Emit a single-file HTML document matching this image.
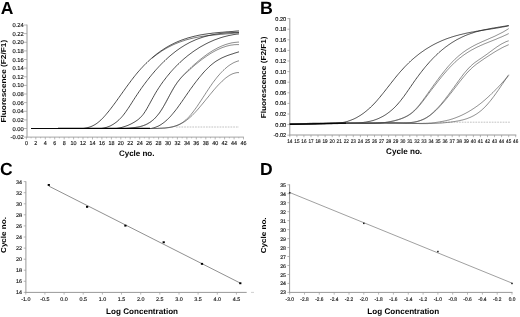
<!DOCTYPE html>
<html><head><meta charset="utf-8"><title>Figure</title>
<style>
html,body{margin:0;padding:0;background:#fff;}
body{width:520px;height:317px;overflow:hidden;}
svg{display:block;will-change:transform;opacity:0.999;font-family:"Liberation Sans",Arial,Helvetica,sans-serif;text-rendering:geometricPrecision;}
</style></head><body>
<svg width="520" height="317" viewBox="0 0 520 317">
<rect width="520" height="317" fill="#fff"/>
<line x1="27.0" y1="24.6" x2="27.0" y2="137.6" stroke="#999" stroke-width="1" />
<line x1="26.5" y1="137.1" x2="243.9" y2="137.1" stroke="#a6a6a6" stroke-width="1" />
<line x1="24.0" y1="137.1" x2="27.0" y2="137.1" stroke="#999" stroke-width="0.7" />
<text x="23.7" y="139.1" font-size="5.8" text-anchor="end" font-weight="normal" fill="#111"  stroke="#111" stroke-width="0.14">-0.02</text>
<line x1="24.0" y1="128.5" x2="27.0" y2="128.5" stroke="#999" stroke-width="0.7" />
<text x="23.7" y="130.5" font-size="5.8" text-anchor="end" font-weight="normal" fill="#111"  stroke="#111" stroke-width="0.14">0.00</text>
<line x1="24.0" y1="119.9" x2="27.0" y2="119.9" stroke="#999" stroke-width="0.7" />
<text x="23.7" y="121.9" font-size="5.8" text-anchor="end" font-weight="normal" fill="#111"  stroke="#111" stroke-width="0.14">0.02</text>
<line x1="24.0" y1="111.3" x2="27.0" y2="111.3" stroke="#999" stroke-width="0.7" />
<text x="23.7" y="113.3" font-size="5.8" text-anchor="end" font-weight="normal" fill="#111"  stroke="#111" stroke-width="0.14">0.04</text>
<line x1="24.0" y1="102.6" x2="27.0" y2="102.6" stroke="#999" stroke-width="0.7" />
<text x="23.7" y="104.6" font-size="5.8" text-anchor="end" font-weight="normal" fill="#111"  stroke="#111" stroke-width="0.14">0.06</text>
<line x1="24.0" y1="94.0" x2="27.0" y2="94.0" stroke="#999" stroke-width="0.7" />
<text x="23.7" y="96.0" font-size="5.8" text-anchor="end" font-weight="normal" fill="#111"  stroke="#111" stroke-width="0.14">0.08</text>
<line x1="24.0" y1="85.4" x2="27.0" y2="85.4" stroke="#999" stroke-width="0.7" />
<text x="23.7" y="87.4" font-size="5.8" text-anchor="end" font-weight="normal" fill="#111"  stroke="#111" stroke-width="0.14">0.10</text>
<line x1="24.0" y1="76.8" x2="27.0" y2="76.8" stroke="#999" stroke-width="0.7" />
<text x="23.7" y="78.8" font-size="5.8" text-anchor="end" font-weight="normal" fill="#111"  stroke="#111" stroke-width="0.14">0.12</text>
<line x1="24.0" y1="68.1" x2="27.0" y2="68.1" stroke="#999" stroke-width="0.7" />
<text x="23.7" y="70.1" font-size="5.8" text-anchor="end" font-weight="normal" fill="#111"  stroke="#111" stroke-width="0.14">0.14</text>
<line x1="24.0" y1="59.5" x2="27.0" y2="59.5" stroke="#999" stroke-width="0.7" />
<text x="23.7" y="61.5" font-size="5.8" text-anchor="end" font-weight="normal" fill="#111"  stroke="#111" stroke-width="0.14">0.16</text>
<line x1="24.0" y1="50.9" x2="27.0" y2="50.9" stroke="#999" stroke-width="0.7" />
<text x="23.7" y="52.9" font-size="5.8" text-anchor="end" font-weight="normal" fill="#111"  stroke="#111" stroke-width="0.14">0.18</text>
<line x1="24.0" y1="42.3" x2="27.0" y2="42.3" stroke="#999" stroke-width="0.7" />
<text x="23.7" y="44.3" font-size="5.8" text-anchor="end" font-weight="normal" fill="#111"  stroke="#111" stroke-width="0.14">0.20</text>
<line x1="24.0" y1="33.6" x2="27.0" y2="33.6" stroke="#999" stroke-width="0.7" />
<text x="23.7" y="35.6" font-size="5.8" text-anchor="end" font-weight="normal" fill="#111"  stroke="#111" stroke-width="0.14">0.22</text>
<line x1="24.0" y1="25.0" x2="27.0" y2="25.0" stroke="#999" stroke-width="0.7" />
<text x="23.7" y="27.0" font-size="5.8" text-anchor="end" font-weight="normal" fill="#111"  stroke="#111" stroke-width="0.14">0.24</text>
<line x1="26.4" y1="137.1" x2="26.4" y2="139.4" stroke="#999" stroke-width="0.7" />
<text transform="translate(26.4,145.0) scale(0.93,1)" font-size="5.8" text-anchor="middle" font-weight="normal" fill="#111"  stroke="#111" stroke-width="0.14">0</text>
<line x1="31.1" y1="137.1" x2="31.1" y2="138.4" stroke="#999" stroke-width="0.6" />
<line x1="35.8" y1="137.1" x2="35.8" y2="139.4" stroke="#999" stroke-width="0.7" />
<text transform="translate(35.8,145.0) scale(0.93,1)" font-size="5.8" text-anchor="middle" font-weight="normal" fill="#111"  stroke="#111" stroke-width="0.14">2</text>
<line x1="40.6" y1="137.1" x2="40.6" y2="138.4" stroke="#999" stroke-width="0.6" />
<line x1="45.3" y1="137.1" x2="45.3" y2="139.4" stroke="#999" stroke-width="0.7" />
<text transform="translate(45.3,145.0) scale(0.93,1)" font-size="5.8" text-anchor="middle" font-weight="normal" fill="#111"  stroke="#111" stroke-width="0.14">4</text>
<line x1="50.0" y1="137.1" x2="50.0" y2="138.4" stroke="#999" stroke-width="0.6" />
<line x1="54.7" y1="137.1" x2="54.7" y2="139.4" stroke="#999" stroke-width="0.7" />
<text transform="translate(54.7,145.0) scale(0.93,1)" font-size="5.8" text-anchor="middle" font-weight="normal" fill="#111"  stroke="#111" stroke-width="0.14">6</text>
<line x1="59.4" y1="137.1" x2="59.4" y2="138.4" stroke="#999" stroke-width="0.6" />
<line x1="64.2" y1="137.1" x2="64.2" y2="139.4" stroke="#999" stroke-width="0.7" />
<text transform="translate(64.2,145.0) scale(0.93,1)" font-size="5.8" text-anchor="middle" font-weight="normal" fill="#111"  stroke="#111" stroke-width="0.14">8</text>
<line x1="68.9" y1="137.1" x2="68.9" y2="138.4" stroke="#999" stroke-width="0.6" />
<line x1="73.6" y1="137.1" x2="73.6" y2="139.4" stroke="#999" stroke-width="0.7" />
<text transform="translate(73.6,145.0) scale(0.93,1)" font-size="5.8" text-anchor="middle" font-weight="normal" fill="#111"  stroke="#111" stroke-width="0.14">10</text>
<line x1="78.3" y1="137.1" x2="78.3" y2="138.4" stroke="#999" stroke-width="0.6" />
<line x1="83.0" y1="137.1" x2="83.0" y2="139.4" stroke="#999" stroke-width="0.7" />
<text transform="translate(83.0,145.0) scale(0.93,1)" font-size="5.8" text-anchor="middle" font-weight="normal" fill="#111"  stroke="#111" stroke-width="0.14">12</text>
<line x1="87.8" y1="137.1" x2="87.8" y2="138.4" stroke="#999" stroke-width="0.6" />
<line x1="92.5" y1="137.1" x2="92.5" y2="139.4" stroke="#999" stroke-width="0.7" />
<text transform="translate(92.5,145.0) scale(0.93,1)" font-size="5.8" text-anchor="middle" font-weight="normal" fill="#111"  stroke="#111" stroke-width="0.14">14</text>
<line x1="97.2" y1="137.1" x2="97.2" y2="138.4" stroke="#999" stroke-width="0.6" />
<line x1="101.9" y1="137.1" x2="101.9" y2="139.4" stroke="#999" stroke-width="0.7" />
<text transform="translate(101.9,145.0) scale(0.93,1)" font-size="5.8" text-anchor="middle" font-weight="normal" fill="#111"  stroke="#111" stroke-width="0.14">16</text>
<line x1="106.6" y1="137.1" x2="106.6" y2="138.4" stroke="#999" stroke-width="0.6" />
<line x1="111.4" y1="137.1" x2="111.4" y2="139.4" stroke="#999" stroke-width="0.7" />
<text transform="translate(111.4,145.0) scale(0.93,1)" font-size="5.8" text-anchor="middle" font-weight="normal" fill="#111"  stroke="#111" stroke-width="0.14">18</text>
<line x1="116.1" y1="137.1" x2="116.1" y2="138.4" stroke="#999" stroke-width="0.6" />
<line x1="120.8" y1="137.1" x2="120.8" y2="139.4" stroke="#999" stroke-width="0.7" />
<text transform="translate(120.8,145.0) scale(0.93,1)" font-size="5.8" text-anchor="middle" font-weight="normal" fill="#111"  stroke="#111" stroke-width="0.14">20</text>
<line x1="125.5" y1="137.1" x2="125.5" y2="138.4" stroke="#999" stroke-width="0.6" />
<line x1="130.2" y1="137.1" x2="130.2" y2="139.4" stroke="#999" stroke-width="0.7" />
<text transform="translate(130.2,145.0) scale(0.93,1)" font-size="5.8" text-anchor="middle" font-weight="normal" fill="#111"  stroke="#111" stroke-width="0.14">22</text>
<line x1="135.0" y1="137.1" x2="135.0" y2="138.4" stroke="#999" stroke-width="0.6" />
<line x1="139.7" y1="137.1" x2="139.7" y2="139.4" stroke="#999" stroke-width="0.7" />
<text transform="translate(139.7,145.0) scale(0.93,1)" font-size="5.8" text-anchor="middle" font-weight="normal" fill="#111"  stroke="#111" stroke-width="0.14">24</text>
<line x1="144.4" y1="137.1" x2="144.4" y2="138.4" stroke="#999" stroke-width="0.6" />
<line x1="149.1" y1="137.1" x2="149.1" y2="139.4" stroke="#999" stroke-width="0.7" />
<text transform="translate(149.1,145.0) scale(0.93,1)" font-size="5.8" text-anchor="middle" font-weight="normal" fill="#111"  stroke="#111" stroke-width="0.14">26</text>
<line x1="153.8" y1="137.1" x2="153.8" y2="138.4" stroke="#999" stroke-width="0.6" />
<line x1="158.6" y1="137.1" x2="158.6" y2="139.4" stroke="#999" stroke-width="0.7" />
<text transform="translate(158.6,145.0) scale(0.93,1)" font-size="5.8" text-anchor="middle" font-weight="normal" fill="#111"  stroke="#111" stroke-width="0.14">28</text>
<line x1="163.3" y1="137.1" x2="163.3" y2="138.4" stroke="#999" stroke-width="0.6" />
<line x1="168.0" y1="137.1" x2="168.0" y2="139.4" stroke="#999" stroke-width="0.7" />
<text transform="translate(168.0,145.0) scale(0.93,1)" font-size="5.8" text-anchor="middle" font-weight="normal" fill="#111"  stroke="#111" stroke-width="0.14">30</text>
<line x1="172.7" y1="137.1" x2="172.7" y2="138.4" stroke="#999" stroke-width="0.6" />
<line x1="177.4" y1="137.1" x2="177.4" y2="139.4" stroke="#999" stroke-width="0.7" />
<text transform="translate(177.4,145.0) scale(0.93,1)" font-size="5.8" text-anchor="middle" font-weight="normal" fill="#111"  stroke="#111" stroke-width="0.14">32</text>
<line x1="182.2" y1="137.1" x2="182.2" y2="138.4" stroke="#999" stroke-width="0.6" />
<line x1="186.9" y1="137.1" x2="186.9" y2="139.4" stroke="#999" stroke-width="0.7" />
<text transform="translate(186.9,145.0) scale(0.93,1)" font-size="5.8" text-anchor="middle" font-weight="normal" fill="#111"  stroke="#111" stroke-width="0.14">34</text>
<line x1="191.6" y1="137.1" x2="191.6" y2="138.4" stroke="#999" stroke-width="0.6" />
<line x1="196.3" y1="137.1" x2="196.3" y2="139.4" stroke="#999" stroke-width="0.7" />
<text transform="translate(196.3,145.0) scale(0.93,1)" font-size="5.8" text-anchor="middle" font-weight="normal" fill="#111"  stroke="#111" stroke-width="0.14">36</text>
<line x1="201.0" y1="137.1" x2="201.0" y2="138.4" stroke="#999" stroke-width="0.6" />
<line x1="205.8" y1="137.1" x2="205.8" y2="139.4" stroke="#999" stroke-width="0.7" />
<text transform="translate(205.8,145.0) scale(0.93,1)" font-size="5.8" text-anchor="middle" font-weight="normal" fill="#111"  stroke="#111" stroke-width="0.14">38</text>
<line x1="210.5" y1="137.1" x2="210.5" y2="138.4" stroke="#999" stroke-width="0.6" />
<line x1="215.2" y1="137.1" x2="215.2" y2="139.4" stroke="#999" stroke-width="0.7" />
<text transform="translate(215.2,145.0) scale(0.93,1)" font-size="5.8" text-anchor="middle" font-weight="normal" fill="#111"  stroke="#111" stroke-width="0.14">40</text>
<line x1="219.9" y1="137.1" x2="219.9" y2="138.4" stroke="#999" stroke-width="0.6" />
<line x1="224.6" y1="137.1" x2="224.6" y2="139.4" stroke="#999" stroke-width="0.7" />
<text transform="translate(224.6,145.0) scale(0.93,1)" font-size="5.8" text-anchor="middle" font-weight="normal" fill="#111"  stroke="#111" stroke-width="0.14">42</text>
<line x1="229.4" y1="137.1" x2="229.4" y2="138.4" stroke="#999" stroke-width="0.6" />
<line x1="234.1" y1="137.1" x2="234.1" y2="139.4" stroke="#999" stroke-width="0.7" />
<text transform="translate(234.1,145.0) scale(0.93,1)" font-size="5.8" text-anchor="middle" font-weight="normal" fill="#111"  stroke="#111" stroke-width="0.14">44</text>
<line x1="238.8" y1="137.1" x2="238.8" y2="138.4" stroke="#999" stroke-width="0.6" />
<line x1="243.5" y1="137.1" x2="243.5" y2="139.4" stroke="#999" stroke-width="0.7" />
<text transform="translate(243.5,145.0) scale(0.93,1)" font-size="5.8" text-anchor="middle" font-weight="normal" fill="#111"  stroke="#111" stroke-width="0.14">46</text>
<text x="136.7" y="155.9" font-size="8.0" text-anchor="middle" font-weight="bold" fill="#000" >Cycle no.</text>
<text transform="translate(6.1,81.2) rotate(-90) scale(1.033,0.9)" font-size="8" text-anchor="middle" font-weight="bold" fill="#000">Fluorescence (F2/F1)</text>
<text x="0.8" y="14.2" font-size="17.5" text-anchor="start" font-weight="bold" fill="#000" >A</text>
<line x1="176.0" y1="127.0" x2="238.8" y2="127.0" stroke="#808080" stroke-width="0.8" stroke-dasharray="0.6,0.98"/>
<path d="M31.1,128.5 L32.1,128.5 L33.1,128.5 L34.1,128.5 L35.1,128.5 L36.1,128.5 L37.1,128.5 L38.1,128.5 L39.1,128.5 L40.1,128.5 L41.1,128.5 L42.1,128.5 L43.1,128.5 L44.1,128.5 L45.1,128.5 L46.1,128.5 L47.1,128.5 L48.1,128.5 L49.1,128.5 L50.1,128.5 L51.1,128.5 L52.1,128.5 L53.1,128.5 L54.1,128.5 L55.1,128.5 L56.1,128.5 L57.1,128.5 L58.1,128.5 L59.1,128.5 L60.1,128.5 L61.1,128.5 L62.1,128.5 L63.1,128.5 L64.1,128.5 L65.1,128.5 L66.1,128.5 L67.1,128.5 L68.1,128.5 L69.1,128.5 L70.1,128.5 L71.1,128.5 L72.1,128.5 L73.1,128.5 L74.1,128.5 L75.1,128.5 L76.1,128.5 L77.1,128.5 L78.1,128.5 L79.1,128.5 L80.1,128.5 L81.1,128.5 L82.1,128.5 L83.1,128.5 L84.1,128.4 L85.1,128.2 L86.1,128.0 L87.1,127.8 L88.1,127.5 L89.1,127.2 L90.1,126.9 L91.1,126.5 L92.1,126.1 L93.1,125.6 L94.1,125.1 L95.1,124.5 L96.1,123.9 L97.1,123.2 L98.1,122.4 L99.1,121.6 L100.1,120.7 L101.1,119.8 L102.1,118.8 L103.1,117.8 L104.1,116.7 L105.1,115.6 L106.1,114.4 L107.1,113.2 L108.1,112.0 L109.1,110.8 L110.1,109.5 L111.1,108.2 L112.1,106.9 L113.1,105.6 L114.1,104.2 L115.1,102.9 L116.1,101.5 L117.1,100.1 L118.1,98.7 L119.1,97.3 L120.1,95.9 L121.1,94.5 L122.1,93.1 L123.1,91.7 L124.1,90.3 L125.1,88.9 L126.1,87.5 L127.1,86.1 L128.1,84.8 L129.1,83.4 L130.1,82.1 L131.1,80.7 L132.1,79.4 L133.1,78.1 L134.1,76.8 L135.1,75.6 L136.1,74.3 L137.1,73.1 L138.1,71.9 L139.1,70.8 L140.1,69.7 L141.1,68.5 L142.1,67.5 L143.1,66.4 L144.1,65.3 L145.1,64.3 L146.1,63.3 L147.1,62.4 L148.1,61.4 L149.1,60.5 L150.1,59.6 L151.1,58.7 L152.1,57.8 L153.1,56.9 L154.1,56.1 L155.1,55.3 L156.1,54.5 L157.1,53.7 L158.1,53.0 L159.1,52.3 L160.1,51.5 L161.1,50.8 L162.1,50.2 L163.1,49.5 L164.1,48.9 L165.1,48.2 L166.1,47.6 L167.1,47.0 L168.1,46.4 L169.1,45.9 L170.1,45.3 L171.1,44.8 L172.1,44.3 L173.1,43.8 L174.1,43.3 L175.1,42.8 L176.1,42.4 L177.1,41.9 L178.1,41.5 L179.1,41.1 L180.1,40.7 L181.1,40.3 L182.1,39.9 L183.1,39.6 L184.1,39.2 L185.1,38.9 L186.1,38.6 L187.1,38.2 L188.1,37.9 L189.1,37.6 L190.1,37.4 L191.1,37.1 L192.1,36.8 L193.1,36.6 L194.1,36.3 L195.1,36.1 L196.1,35.9 L197.1,35.6 L198.1,35.4 L199.1,35.2 L200.1,35.0 L201.1,34.8 L202.1,34.7 L203.1,34.5 L204.1,34.3 L205.1,34.2 L206.1,34.0 L207.1,33.9 L208.1,33.7 L209.1,33.6 L210.1,33.5 L211.1,33.4 L212.1,33.2 L213.1,33.1 L214.1,33.0 L215.1,32.9 L216.1,32.8 L217.1,32.7 L218.1,32.6 L219.1,32.5 L220.1,32.4 L221.1,32.3 L222.1,32.3 L223.1,32.2 L224.1,32.1 L225.1,32.0 L226.1,31.9 L227.1,31.8 L228.1,31.8 L229.1,31.7 L230.1,31.6 L231.1,31.5 L232.1,31.5 L233.1,31.4 L234.1,31.3 L235.1,31.2 L236.1,31.1 L237.1,31.0 L238.1,31.0 L239.0,30.9" fill="none" stroke="#222" stroke-width="0.82"/>
<path d="M31.1,128.5 L32.1,128.5 L33.1,128.5 L34.1,128.5 L35.1,128.5 L36.1,128.5 L37.1,128.5 L38.1,128.5 L39.1,128.5 L40.1,128.5 L41.1,128.5 L42.1,128.5 L43.1,128.5 L44.1,128.5 L45.1,128.5 L46.1,128.5 L47.1,128.5 L48.1,128.5 L49.1,128.5 L50.1,128.5 L51.1,128.5 L52.1,128.5 L53.1,128.5 L54.1,128.5 L55.1,128.5 L56.1,128.5 L57.1,128.5 L58.1,128.5 L59.1,128.5 L60.1,128.5 L61.1,128.5 L62.1,128.5 L63.1,128.5 L64.1,128.5 L65.1,128.5 L66.1,128.5 L67.1,128.5 L68.1,128.5 L69.1,128.5 L70.1,128.5 L71.1,128.5 L72.1,128.5 L73.1,128.5 L74.1,128.5 L75.1,128.5 L76.1,128.5 L77.1,128.5 L78.1,128.5 L79.1,128.5 L80.1,128.5 L81.1,128.5 L82.1,128.5 L83.1,128.5 L84.1,128.5 L85.1,128.5 L86.1,128.5 L87.1,128.5 L88.1,128.5 L89.1,128.5 L90.1,128.5 L91.1,128.5 L92.1,128.5 L93.1,128.5 L94.1,128.5 L95.1,128.5 L96.1,128.5 L97.1,128.5 L98.1,128.5 L99.1,128.5 L100.1,128.5 L101.1,128.5 L102.1,128.4 L103.1,128.2 L104.1,128.0 L105.1,127.7 L106.1,127.5 L107.1,127.1 L108.1,126.8 L109.1,126.4 L110.1,126.0 L111.1,125.5 L112.1,124.9 L113.1,124.4 L114.1,123.7 L115.1,123.0 L116.1,122.3 L117.1,121.5 L118.1,120.6 L119.1,119.7 L120.1,118.7 L121.1,117.7 L122.1,116.6 L123.1,115.4 L124.1,114.1 L125.1,112.8 L126.1,111.4 L127.1,109.9 L128.1,108.5 L129.1,107.0 L130.1,105.4 L131.1,103.9 L132.1,102.3 L133.1,100.7 L134.1,99.2 L135.1,97.6 L136.1,96.1 L137.1,94.6 L138.1,93.1 L139.1,91.6 L140.1,90.2 L141.1,88.7 L142.1,87.3 L143.1,85.9 L144.1,84.6 L145.1,83.2 L146.1,81.9 L147.1,80.6 L148.1,79.3 L149.1,78.0 L150.1,76.8 L151.1,75.6 L152.1,74.3 L153.1,73.2 L154.1,72.0 L155.1,70.8 L156.1,69.7 L157.1,68.6 L158.1,67.5 L159.1,66.4 L160.1,65.4 L161.1,64.3 L162.1,63.3 L163.1,62.3 L164.1,61.3 L165.1,60.4 L166.1,59.4 L167.1,58.5 L168.1,57.6 L169.1,56.7 L170.1,55.9 L171.1,55.0 L172.1,54.2 L173.1,53.4 L174.1,52.6 L175.1,51.8 L176.1,51.0 L177.1,50.3 L178.1,49.6 L179.1,48.9 L180.1,48.2 L181.1,47.5 L182.1,46.9 L183.1,46.3 L184.1,45.6 L185.1,45.0 L186.1,44.5 L187.1,43.9 L188.1,43.4 L189.1,42.8 L190.1,42.3 L191.1,41.8 L192.1,41.4 L193.1,40.9 L194.1,40.5 L195.1,40.0 L196.1,39.6 L197.1,39.2 L198.1,38.8 L199.1,38.5 L200.1,38.1 L201.1,37.8 L202.1,37.4 L203.1,37.1 L204.1,36.8 L205.1,36.5 L206.1,36.2 L207.1,36.0 L208.1,35.7 L209.1,35.5 L210.1,35.3 L211.1,35.0 L212.1,34.8 L213.1,34.6 L214.1,34.5 L215.1,34.3 L216.1,34.1 L217.1,34.0 L218.1,33.8 L219.1,33.7 L220.1,33.5 L221.1,33.4 L222.1,33.3 L223.1,33.2 L224.1,33.1 L225.1,33.0 L226.1,32.9 L227.1,32.8 L228.1,32.8 L229.1,32.7 L230.1,32.7 L231.1,32.6 L232.1,32.6 L233.1,32.5 L234.1,32.5 L235.1,32.4 L236.1,32.4 L237.1,32.4 L238.1,32.4 L239.0,32.4" fill="none" stroke="#222" stroke-width="0.82"/>
<path d="M31.1,128.5 L32.1,128.5 L33.1,128.5 L34.1,128.5 L35.1,128.5 L36.1,128.5 L37.1,128.5 L38.1,128.5 L39.1,128.5 L40.1,128.5 L41.1,128.5 L42.1,128.5 L43.1,128.5 L44.1,128.5 L45.1,128.5 L46.1,128.5 L47.1,128.5 L48.1,128.5 L49.1,128.5 L50.1,128.5 L51.1,128.5 L52.1,128.5 L53.1,128.5 L54.1,128.5 L55.1,128.5 L56.1,128.5 L57.1,128.5 L58.1,128.5 L59.1,128.5 L60.1,128.5 L61.1,128.5 L62.1,128.5 L63.1,128.5 L64.1,128.5 L65.1,128.5 L66.1,128.5 L67.1,128.5 L68.1,128.5 L69.1,128.5 L70.1,128.5 L71.1,128.5 L72.1,128.5 L73.1,128.5 L74.1,128.5 L75.1,128.5 L76.1,128.5 L77.1,128.5 L78.1,128.5 L79.1,128.5 L80.1,128.5 L81.1,128.5 L82.1,128.5 L83.1,128.5 L84.1,128.5 L85.1,128.5 L86.1,128.5 L87.1,128.5 L88.1,128.5 L89.1,128.5 L90.1,128.5 L91.1,128.5 L92.1,128.5 L93.1,128.5 L94.1,128.5 L95.1,128.5 L96.1,128.5 L97.1,128.5 L98.1,128.5 L99.1,128.5 L100.1,128.5 L101.1,128.5 L102.1,128.5 L103.1,128.5 L104.1,128.5 L105.1,128.5 L106.1,128.5 L107.1,128.5 L108.1,128.5 L109.1,128.5 L110.1,128.5 L111.1,128.5 L112.1,128.5 L113.1,128.5 L114.1,128.5 L115.1,128.5 L116.1,128.5 L117.1,128.4 L118.1,128.2 L119.1,128.0 L120.1,127.8 L121.1,127.6 L122.1,127.3 L123.1,127.0 L124.1,126.7 L125.1,126.4 L126.1,126.0 L127.1,125.7 L128.1,125.3 L129.1,124.8 L130.1,124.4 L131.1,123.9 L132.1,123.4 L133.1,122.8 L134.1,122.3 L135.1,121.6 L136.1,121.0 L137.1,120.3 L138.1,119.6 L139.1,118.7 L140.1,117.8 L141.1,116.8 L142.1,115.7 L143.1,114.5 L144.1,113.1 L145.1,111.6 L146.1,110.0 L147.1,108.3 L148.1,106.5 L149.1,104.7 L150.1,102.9 L151.1,101.0 L152.1,99.2 L153.1,97.4 L154.1,95.6 L155.1,93.8 L156.1,92.1 L157.1,90.5 L158.1,88.9 L159.1,87.4 L160.1,85.9 L161.1,84.4 L162.1,83.0 L163.1,81.6 L164.1,80.3 L165.1,79.0 L166.1,77.7 L167.1,76.4 L168.1,75.2 L169.1,74.0 L170.1,72.8 L171.1,71.6 L172.1,70.5 L173.1,69.4 L174.1,68.3 L175.1,67.3 L176.1,66.2 L177.1,65.2 L178.1,64.2 L179.1,63.3 L180.1,62.3 L181.1,61.4 L182.1,60.5 L183.1,59.6 L184.1,58.7 L185.1,57.9 L186.1,57.1 L187.1,56.2 L188.1,55.4 L189.1,54.7 L190.1,53.9 L191.1,53.2 L192.1,52.4 L193.1,51.7 L194.1,51.0 L195.1,50.3 L196.1,49.7 L197.1,49.0 L198.1,48.4 L199.1,47.7 L200.1,47.1 L201.1,46.5 L202.1,46.0 L203.1,45.4 L204.1,44.9 L205.1,44.3 L206.1,43.8 L207.1,43.3 L208.1,42.8 L209.1,42.3 L210.1,41.9 L211.1,41.4 L212.1,41.0 L213.1,40.5 L214.1,40.1 L215.1,39.7 L216.1,39.4 L217.1,39.0 L218.1,38.6 L219.1,38.3 L220.1,37.9 L221.1,37.6 L222.1,37.3 L223.1,37.0 L224.1,36.7 L225.1,36.5 L226.1,36.2 L227.1,36.0 L228.1,35.7 L229.1,35.5 L230.1,35.3 L231.1,35.1 L232.1,34.9 L233.1,34.7 L234.1,34.5 L235.1,34.4 L236.1,34.2 L237.1,34.1 L238.1,34.0 L239.0,33.9" fill="none" stroke="#222" stroke-width="0.82"/>
<path d="M31.1,128.5 L32.1,128.5 L33.1,128.5 L34.1,128.5 L35.1,128.5 L36.1,128.5 L37.1,128.5 L38.1,128.5 L39.1,128.5 L40.1,128.5 L41.1,128.5 L42.1,128.5 L43.1,128.5 L44.1,128.5 L45.1,128.5 L46.1,128.5 L47.1,128.5 L48.1,128.5 L49.1,128.5 L50.1,128.5 L51.1,128.5 L52.1,128.5 L53.1,128.5 L54.1,128.5 L55.1,128.5 L56.1,128.5 L57.1,128.5 L58.1,128.5 L59.1,128.5 L60.1,128.5 L61.1,128.5 L62.1,128.5 L63.1,128.5 L64.1,128.5 L65.1,128.5 L66.1,128.5 L67.1,128.5 L68.1,128.5 L69.1,128.5 L70.1,128.5 L71.1,128.5 L72.1,128.5 L73.1,128.5 L74.1,128.5 L75.1,128.5 L76.1,128.5 L77.1,128.5 L78.1,128.5 L79.1,128.5 L80.1,128.5 L81.1,128.5 L82.1,128.5 L83.1,128.5 L84.1,128.5 L85.1,128.5 L86.1,128.5 L87.1,128.5 L88.1,128.5 L89.1,128.5 L90.1,128.5 L91.1,128.5 L92.1,128.5 L93.1,128.5 L94.1,128.5 L95.1,128.5 L96.1,128.5 L97.1,128.5 L98.1,128.5 L99.1,128.5 L100.1,128.5 L101.1,128.5 L102.1,128.5 L103.1,128.5 L104.1,128.5 L105.1,128.5 L106.1,128.5 L107.1,128.5 L108.1,128.5 L109.1,128.5 L110.1,128.5 L111.1,128.5 L112.1,128.5 L113.1,128.5 L114.1,128.5 L115.1,128.5 L116.1,128.5 L117.1,128.5 L118.1,128.5 L119.1,128.5 L120.1,128.5 L121.1,128.5 L122.1,128.5 L123.1,128.5 L124.1,128.5 L125.1,128.5 L126.1,128.5 L127.1,128.5 L128.1,128.5 L129.1,128.5 L130.1,128.5 L131.1,128.5 L132.1,128.5 L133.1,128.5 L134.1,128.5 L135.1,128.5 L136.1,128.5 L137.1,128.5 L138.1,128.5 L139.1,128.5 L140.1,128.5 L141.1,128.5 L142.1,128.5 L143.1,128.5 L144.1,128.5 L145.1,128.5 L146.1,128.5 L147.1,128.5 L148.1,128.5 L149.1,128.5 L150.1,128.5 L151.1,128.5 L152.1,128.2 L153.1,128.0 L154.1,127.7 L155.1,127.4 L156.1,127.0 L157.1,126.6 L158.1,126.2 L159.1,125.7 L160.1,125.1 L161.1,124.5 L162.1,123.8 L163.1,123.1 L164.1,122.4 L165.1,121.5 L166.1,120.7 L167.1,119.8 L168.1,118.8 L169.1,117.8 L170.1,116.8 L171.1,115.7 L172.1,114.5 L173.1,113.3 L174.1,112.1 L175.1,110.9 L176.1,109.6 L177.1,108.3 L178.1,106.9 L179.1,105.5 L180.1,104.1 L181.1,102.7 L182.1,101.3 L183.1,99.8 L184.1,98.4 L185.1,96.9 L186.1,95.5 L187.1,94.0 L188.1,92.6 L189.1,91.2 L190.1,89.7 L191.1,88.3 L192.1,87.0 L193.1,85.6 L194.1,84.2 L195.1,82.9 L196.1,81.6 L197.1,80.3 L198.1,79.0 L199.1,77.8 L200.1,76.6 L201.1,75.4 L202.1,74.2 L203.1,73.0 L204.1,71.9 L205.1,70.8 L206.1,69.8 L207.1,68.8 L208.1,67.8 L209.1,66.8 L210.1,65.9 L211.1,65.0 L212.1,64.2 L213.1,63.4 L214.1,62.6 L215.1,61.9 L216.1,61.2 L217.1,60.6 L218.1,60.0 L219.1,59.4 L220.1,58.9 L221.1,58.3 L222.1,57.8 L223.1,57.4 L224.1,56.9 L225.1,56.5 L226.1,56.1 L227.1,55.7 L228.1,55.3 L229.1,55.0 L230.1,54.6 L231.1,54.3 L232.1,54.0 L233.1,53.7 L234.1,53.3 L235.1,53.0 L236.1,52.7 L237.1,52.4 L238.1,52.1 L239.0,51.8" fill="none" stroke="#222" stroke-width="0.82"/>
<path d="M152.1,58.2 L153.1,57.4 L154.1,56.6 L155.1,55.8 L156.1,55.0 L157.1,54.3 L158.1,53.6 L159.1,52.9 L160.1,52.2 L161.1,51.5 L162.1,50.8 L163.1,50.2 L164.1,49.6 L165.1,49.0 L166.1,48.4 L167.1,47.9 L168.1,47.3 L169.1,46.8 L170.1,46.3 L171.1,45.8 L172.1,45.3 L173.1,44.8 L174.1,44.4 L175.1,43.9 L176.1,43.5 L177.1,43.1 L178.1,42.7 L179.1,42.3 L180.1,41.9 L181.1,41.6 L182.1,41.2 L183.1,40.9 L184.1,40.6 L185.1,40.2 L186.1,39.9 L187.1,39.6 L188.1,39.4 L189.1,39.1 L190.1,38.8 L191.1,38.6 L192.1,38.4 L193.1,38.1 L194.1,37.9 L195.1,37.7 L196.1,37.5 L197.1,37.3 L198.1,37.1 L199.1,36.9 L200.1,36.8 L201.1,36.6 L202.1,36.4 L203.1,36.3 L204.1,36.1 L205.1,36.0 L206.1,35.9 L207.1,35.7 L208.1,35.6 L209.1,35.5 L210.1,35.4 L211.1,35.3 L212.1,35.2 L213.1,35.1 L214.1,35.0 L215.1,34.9 L216.1,34.8 L217.1,34.7 L218.1,34.6 L219.1,34.5 L220.1,34.4 L221.1,34.3 L222.1,34.3 L223.1,34.2 L224.1,34.1 L225.1,34.0 L226.1,33.9 L227.1,33.8 L228.1,33.8 L229.1,33.7 L230.1,33.6 L231.1,33.5 L232.1,33.4 L233.1,33.3 L234.1,33.2 L235.1,33.1 L236.1,33.0 L237.1,32.9 L238.1,32.8 L239.0,32.7" fill="none" stroke="#2a2a2a" stroke-width="0.65"/>
<path d="M31.1,128.5 L32.1,128.5 L33.1,128.5 L34.1,128.5 L35.1,128.5 L36.1,128.5 L37.1,128.5 L38.1,128.5 L39.1,128.5 L40.1,128.5 L41.1,128.5 L42.1,128.5 L43.1,128.5 L44.1,128.5 L45.1,128.5 L46.1,128.5 L47.1,128.5 L48.1,128.5 L49.1,128.5 L50.1,128.5 L51.1,128.5 L52.1,128.5 L53.1,128.5 L54.1,128.5 L55.1,128.5 L56.1,128.5 L57.1,128.5 L58.1,128.5 L59.1,128.5 L60.1,128.5 L61.1,128.5 L62.1,128.5 L63.1,128.5 L64.1,128.5 L65.1,128.5 L66.1,128.5 L67.1,128.5 L68.1,128.5 L69.1,128.5 L70.1,128.5 L71.1,128.5 L72.1,128.5 L73.1,128.5 L74.1,128.5 L75.1,128.5 L76.1,128.5 L77.1,128.5 L78.1,128.5 L79.1,128.5 L80.1,128.5 L81.1,128.5 L82.1,128.5 L83.1,128.5 L84.1,128.5 L85.1,128.5 L86.1,128.5 L87.1,128.5 L88.1,128.5 L89.1,128.5 L90.1,128.5 L91.1,128.5 L92.1,128.5 L93.1,128.5 L94.1,128.5 L95.1,128.5 L96.1,128.5 L97.1,128.5 L98.1,128.5 L99.1,128.5 L100.1,128.5 L101.1,128.5 L102.1,128.5 L103.1,128.5 L104.1,128.5 L105.1,128.5 L106.1,128.5 L107.1,128.5 L108.1,128.5 L109.1,128.5 L110.1,128.5 L111.1,128.5 L112.1,128.5 L113.1,128.5 L114.1,128.5 L115.1,128.5 L116.1,128.5 L117.1,128.5 L118.1,128.5 L119.1,128.5 L120.1,128.5 L121.1,128.5 L122.1,128.5 L123.1,128.5 L124.1,128.5 L125.1,128.5 L126.1,128.5 L127.1,128.4 L128.1,128.4 L129.1,128.3 L130.1,128.2 L131.1,128.0 L132.1,127.9 L133.1,127.8 L134.1,127.6 L135.1,127.5 L136.1,127.3 L137.1,127.2 L138.1,127.0 L139.1,126.8 L140.1,126.5 L141.1,126.3 L142.1,126.0 L143.1,125.7 L144.1,125.3 L145.1,124.9 L146.1,124.5 L147.1,124.0 L148.1,123.4 L149.1,122.8 L150.1,122.2 L151.1,121.5 L152.1,120.7 L153.1,119.9 L154.1,119.0 L155.1,118.0 L156.1,116.9 L157.1,115.8 L158.1,114.6 L159.1,113.3 L160.1,111.9 L161.1,110.4 L162.1,108.9 L163.1,107.2 L164.1,105.5 L165.1,103.7 L166.1,101.9 L167.1,100.0 L168.1,98.2 L169.1,96.3 L170.1,94.4 L171.1,92.6 L172.1,90.8 L173.1,89.0 L174.1,87.3 L175.1,85.7 L176.1,84.2 L177.1,82.7 L178.1,81.3 L179.1,80.0 L180.1,78.8 L181.1,77.6 L182.1,76.5 L183.1,75.4 L184.1,74.3 L185.1,73.3 L186.1,72.3 L187.1,71.3 L188.1,70.3 L189.1,69.4 L190.1,68.4 L191.1,67.5 L192.1,66.5 L193.1,65.6 L194.1,64.7 L195.1,63.8 L196.1,63.0 L197.1,62.1 L198.1,61.3 L199.1,60.4 L200.1,59.6 L201.1,58.8 L202.1,58.0 L203.1,57.3 L204.1,56.5 L205.1,55.8 L206.1,55.0 L207.1,54.3 L208.1,53.6 L209.1,53.0 L210.1,52.3 L211.1,51.7 L212.1,51.0 L213.1,50.4 L214.1,49.9 L215.1,49.3 L216.1,48.8 L217.1,48.2 L218.1,47.7 L219.1,47.2 L220.1,46.8 L221.1,46.3 L222.1,45.9 L223.1,45.5 L224.1,45.1 L225.1,44.7 L226.1,44.4 L227.1,44.1 L228.1,43.8 L229.1,43.5 L230.1,43.3 L231.1,43.0 L232.1,42.8 L233.1,42.7 L234.1,42.5 L235.1,42.4 L236.1,42.3 L237.1,42.2 L238.1,42.1 L239.0,42.1" fill="none" stroke="#4a4a4a" stroke-width="0.65"/>
<path d="M31.1,128.5 L32.1,128.5 L33.1,128.5 L34.1,128.5 L35.1,128.5 L36.1,128.5 L37.1,128.5 L38.1,128.5 L39.1,128.5 L40.1,128.5 L41.1,128.5 L42.1,128.5 L43.1,128.5 L44.1,128.5 L45.1,128.5 L46.1,128.5 L47.1,128.5 L48.1,128.5 L49.1,128.5 L50.1,128.5 L51.1,128.5 L52.1,128.5 L53.1,128.5 L54.1,128.5 L55.1,128.5 L56.1,128.5 L57.1,128.5 L58.1,128.5 L59.1,128.5 L60.1,128.5 L61.1,128.5 L62.1,128.5 L63.1,128.5 L64.1,128.5 L65.1,128.5 L66.1,128.5 L67.1,128.5 L68.1,128.5 L69.1,128.5 L70.1,128.5 L71.1,128.5 L72.1,128.5 L73.1,128.5 L74.1,128.5 L75.1,128.5 L76.1,128.5 L77.1,128.5 L78.1,128.5 L79.1,128.5 L80.1,128.5 L81.1,128.5 L82.1,128.5 L83.1,128.5 L84.1,128.5 L85.1,128.5 L86.1,128.5 L87.1,128.5 L88.1,128.5 L89.1,128.5 L90.1,128.5 L91.1,128.5 L92.1,128.5 L93.1,128.5 L94.1,128.5 L95.1,128.5 L96.1,128.5 L97.1,128.5 L98.1,128.5 L99.1,128.5 L100.1,128.5 L101.1,128.5 L102.1,128.5 L103.1,128.5 L104.1,128.5 L105.1,128.5 L106.1,128.5 L107.1,128.5 L108.1,128.5 L109.1,128.5 L110.1,128.5 L111.1,128.5 L112.1,128.5 L113.1,128.5 L114.1,128.5 L115.1,128.5 L116.1,128.5 L117.1,128.5 L118.1,128.5 L119.1,128.5 L120.1,128.5 L121.1,128.5 L122.1,128.5 L123.1,128.5 L124.1,128.5 L125.1,128.5 L126.1,128.5 L127.1,128.4 L128.1,128.3 L129.1,128.2 L130.1,128.1 L131.1,128.0 L132.1,127.9 L133.1,127.8 L134.1,127.6 L135.1,127.5 L136.1,127.3 L137.1,127.2 L138.1,127.0 L139.1,126.8 L140.1,126.6 L141.1,126.3 L142.1,126.0 L143.1,125.7 L144.1,125.3 L145.1,125.0 L146.1,124.5 L147.1,124.0 L148.1,123.5 L149.1,122.9 L150.1,122.3 L151.1,121.6 L152.1,120.8 L153.1,120.0 L154.1,119.1 L155.1,118.1 L156.1,117.0 L157.1,115.9 L158.1,114.7 L159.1,113.4 L160.1,112.0 L161.1,110.5 L162.1,108.9 L163.1,107.2 L164.1,105.5 L165.1,103.7 L166.1,101.9 L167.1,100.0 L168.1,98.1 L169.1,96.2 L170.1,94.4 L171.1,92.5 L172.1,90.7 L173.1,89.0 L174.1,87.3 L175.1,85.7 L176.1,84.2 L177.1,82.8 L178.1,81.5 L179.1,80.2 L180.1,79.0 L181.1,77.9 L182.1,76.8 L183.1,75.8 L184.1,74.8 L185.1,73.8 L186.1,72.9 L187.1,72.0 L188.1,71.1 L189.1,70.2 L190.1,69.3 L191.1,68.4 L192.1,67.5 L193.1,66.6 L194.1,65.8 L195.1,64.9 L196.1,64.1 L197.1,63.3 L198.1,62.5 L199.1,61.7 L200.1,60.9 L201.1,60.1 L202.1,59.3 L203.1,58.6 L204.1,57.9 L205.1,57.2 L206.1,56.5 L207.1,55.8 L208.1,55.1 L209.1,54.5 L210.1,53.8 L211.1,53.2 L212.1,52.6 L213.1,52.0 L214.1,51.5 L215.1,50.9 L216.1,50.4 L217.1,49.9 L218.1,49.4 L219.1,49.0 L220.1,48.5 L221.1,48.1 L222.1,47.7 L223.1,47.3 L224.1,47.0 L225.1,46.6 L226.1,46.3 L227.1,46.0 L228.1,45.8 L229.1,45.5 L230.1,45.3 L231.1,45.1 L232.1,45.0 L233.1,44.9 L234.1,44.7 L235.1,44.7 L236.1,44.6 L237.1,44.6 L238.1,44.6 L239.0,44.6" fill="none" stroke="#4a4a4a" stroke-width="0.65"/>
<path d="M31.1,128.5 L32.1,128.5 L33.1,128.5 L34.1,128.5 L35.1,128.5 L36.1,128.5 L37.1,128.5 L38.1,128.5 L39.1,128.5 L40.1,128.5 L41.1,128.5 L42.1,128.5 L43.1,128.5 L44.1,128.5 L45.1,128.5 L46.1,128.5 L47.1,128.5 L48.1,128.5 L49.1,128.5 L50.1,128.5 L51.1,128.5 L52.1,128.5 L53.1,128.5 L54.1,128.5 L55.1,128.5 L56.1,128.5 L57.1,128.5 L58.1,128.5 L59.1,128.5 L60.1,128.5 L61.1,128.5 L62.1,128.5 L63.1,128.5 L64.1,128.5 L65.1,128.5 L66.1,128.5 L67.1,128.5 L68.1,128.5 L69.1,128.5 L70.1,128.5 L71.1,128.5 L72.1,128.5 L73.1,128.5 L74.1,128.5 L75.1,128.5 L76.1,128.5 L77.1,128.5 L78.1,128.5 L79.1,128.5 L80.1,128.5 L81.1,128.5 L82.1,128.5 L83.1,128.5 L84.1,128.5 L85.1,128.5 L86.1,128.5 L87.1,128.5 L88.1,128.5 L89.1,128.5 L90.1,128.5 L91.1,128.5 L92.1,128.5 L93.1,128.5 L94.1,128.5 L95.1,128.5 L96.1,128.5 L97.1,128.5 L98.1,128.5 L99.1,128.5 L100.1,128.5 L101.1,128.5 L102.1,128.5 L103.1,128.5 L104.1,128.5 L105.1,128.5 L106.1,128.5 L107.1,128.5 L108.1,128.5 L109.1,128.5 L110.1,128.5 L111.1,128.5 L112.1,128.5 L113.1,128.5 L114.1,128.5 L115.1,128.5 L116.1,128.5 L117.1,128.5 L118.1,128.5 L119.1,128.5 L120.1,128.5 L121.1,128.5 L122.1,128.5 L123.1,128.5 L124.1,128.5 L125.1,128.5 L126.1,128.5 L127.1,128.5 L128.1,128.5 L129.1,128.5 L130.1,128.5 L131.1,128.5 L132.1,128.5 L133.1,128.5 L134.1,128.5 L135.1,128.5 L136.1,128.5 L137.1,128.5 L138.1,128.5 L139.1,128.5 L140.1,128.5 L141.1,128.5 L142.1,128.5 L143.1,128.5 L144.1,128.5 L145.1,128.5 L146.1,128.5 L147.1,128.5 L148.1,128.5 L149.1,128.5 L150.1,128.5 L151.1,128.5 L152.1,128.5 L153.1,128.5 L154.1,128.5 L155.1,128.4 L156.1,128.4 L157.1,128.4 L158.1,128.3 L159.1,128.3 L160.1,128.2 L161.1,128.2 L162.1,128.2 L163.1,128.1 L164.1,128.1 L165.1,128.0 L166.1,127.9 L167.1,127.8 L168.1,127.7 L169.1,127.6 L170.1,127.4 L171.1,127.2 L172.1,127.0 L173.1,126.8 L174.1,126.5 L175.1,126.2 L176.1,125.8 L177.1,125.4 L178.1,125.0 L179.1,124.5 L180.1,124.0 L181.1,123.4 L182.1,122.8 L183.1,122.1 L184.1,121.3 L185.1,120.5 L186.1,119.7 L187.1,118.7 L188.1,117.7 L189.1,116.7 L190.1,115.5 L191.1,114.4 L192.1,113.1 L193.1,111.9 L194.1,110.5 L195.1,109.2 L196.1,107.8 L197.1,106.4 L198.1,104.9 L199.1,103.4 L200.1,101.9 L201.1,100.4 L202.1,98.9 L203.1,97.3 L204.1,95.8 L205.1,94.3 L206.1,92.7 L207.1,91.2 L208.1,89.7 L209.1,88.2 L210.1,86.7 L211.1,85.3 L212.1,83.8 L213.1,82.4 L214.1,81.1 L215.1,79.8 L216.1,78.5 L217.1,77.2 L218.1,76.0 L219.1,74.9 L220.1,73.7 L221.1,72.7 L222.1,71.6 L223.1,70.6 L224.1,69.7 L225.1,68.7 L226.1,67.9 L227.1,67.0 L228.1,66.2 L229.1,65.5 L230.1,64.8 L231.1,64.2 L232.1,63.6 L233.1,63.0 L234.1,62.5 L235.1,62.1 L236.1,61.7 L237.1,61.3 L238.1,61.0 L239.0,60.8" fill="none" stroke="#4a4a4a" stroke-width="0.65"/>
<path d="M31.1,128.5 L32.1,128.5 L33.1,128.5 L34.1,128.5 L35.1,128.5 L36.1,128.5 L37.1,128.5 L38.1,128.5 L39.1,128.5 L40.1,128.5 L41.1,128.5 L42.1,128.5 L43.1,128.5 L44.1,128.5 L45.1,128.5 L46.1,128.5 L47.1,128.5 L48.1,128.5 L49.1,128.5 L50.1,128.5 L51.1,128.5 L52.1,128.5 L53.1,128.5 L54.1,128.5 L55.1,128.5 L56.1,128.5 L57.1,128.5 L58.1,128.5 L59.1,128.5 L60.1,128.5 L61.1,128.5 L62.1,128.5 L63.1,128.5 L64.1,128.5 L65.1,128.5 L66.1,128.5 L67.1,128.5 L68.1,128.5 L69.1,128.5 L70.1,128.5 L71.1,128.5 L72.1,128.5 L73.1,128.5 L74.1,128.5 L75.1,128.5 L76.1,128.5 L77.1,128.5 L78.1,128.5 L79.1,128.5 L80.1,128.5 L81.1,128.5 L82.1,128.5 L83.1,128.5 L84.1,128.5 L85.1,128.5 L86.1,128.5 L87.1,128.5 L88.1,128.5 L89.1,128.5 L90.1,128.5 L91.1,128.5 L92.1,128.5 L93.1,128.5 L94.1,128.5 L95.1,128.5 L96.1,128.5 L97.1,128.5 L98.1,128.5 L99.1,128.5 L100.1,128.5 L101.1,128.5 L102.1,128.5 L103.1,128.5 L104.1,128.5 L105.1,128.5 L106.1,128.5 L107.1,128.5 L108.1,128.5 L109.1,128.5 L110.1,128.5 L111.1,128.5 L112.1,128.5 L113.1,128.5 L114.1,128.5 L115.1,128.5 L116.1,128.5 L117.1,128.5 L118.1,128.5 L119.1,128.5 L120.1,128.5 L121.1,128.5 L122.1,128.5 L123.1,128.5 L124.1,128.5 L125.1,128.5 L126.1,128.5 L127.1,128.5 L128.1,128.5 L129.1,128.5 L130.1,128.5 L131.1,128.5 L132.1,128.5 L133.1,128.5 L134.1,128.5 L135.1,128.5 L136.1,128.5 L137.1,128.5 L138.1,128.5 L139.1,128.5 L140.1,128.5 L141.1,128.5 L142.1,128.5 L143.1,128.5 L144.1,128.5 L145.1,128.5 L146.1,128.5 L147.1,128.5 L148.1,128.5 L149.1,128.5 L150.1,128.5 L151.1,128.5 L152.1,128.5 L153.1,128.5 L154.1,128.5 L155.1,128.5 L156.1,128.5 L157.1,128.5 L158.1,128.4 L159.1,128.4 L160.1,128.3 L161.1,128.3 L162.1,128.2 L163.1,128.1 L164.1,128.1 L165.1,128.0 L166.1,127.9 L167.1,127.7 L168.1,127.6 L169.1,127.4 L170.1,127.3 L171.1,127.1 L172.1,126.9 L173.1,126.6 L174.1,126.3 L175.1,126.1 L176.1,125.7 L177.1,125.4 L178.1,125.0 L179.1,124.6 L180.1,124.1 L181.1,123.6 L182.1,123.1 L183.1,122.5 L184.1,121.9 L185.1,121.3 L186.1,120.6 L187.1,119.8 L188.1,119.0 L189.1,118.2 L190.1,117.3 L191.1,116.4 L192.1,115.5 L193.1,114.5 L194.1,113.4 L195.1,112.4 L196.1,111.3 L197.1,110.2 L198.1,109.1 L199.1,107.9 L200.1,106.7 L201.1,105.5 L202.1,104.3 L203.1,103.1 L204.1,101.9 L205.1,100.7 L206.1,99.4 L207.1,98.2 L208.1,97.0 L209.1,95.8 L210.1,94.5 L211.1,93.3 L212.1,92.1 L213.1,90.9 L214.1,89.7 L215.1,88.6 L216.1,87.4 L217.1,86.3 L218.1,85.2 L219.1,84.2 L220.1,83.2 L221.1,82.2 L222.1,81.2 L223.1,80.3 L224.1,79.4 L225.1,78.5 L226.1,77.7 L227.1,77.0 L228.1,76.3 L229.1,75.6 L230.1,75.0 L231.1,74.5 L232.1,74.0 L233.1,73.6 L234.1,73.3 L235.1,73.0 L236.1,72.8 L237.1,72.6 L238.1,72.6 L239.0,72.6" fill="none" stroke="#4a4a4a" stroke-width="0.65"/>
<line x1="31.1" y1="128.5" x2="150.0" y2="128.5" stroke="#000" stroke-width="0.9" />
<line x1="58.0" y1="128.3" x2="150.0" y2="128.3" stroke="#000" stroke-width="1.3" />
<line x1="289.8" y1="18.2" x2="289.8" y2="135.5" stroke="#999" stroke-width="1" />
<line x1="289.3" y1="135.0" x2="516.3" y2="135.0" stroke="#999" stroke-width="1" />
<line x1="287.4" y1="135.2" x2="289.8" y2="135.2" stroke="#999" stroke-width="0.7" />
<text x="286.2" y="137.2" font-size="5.6" text-anchor="end" font-weight="normal" fill="#111"  stroke="#111" stroke-width="0.14">-0.02</text>
<line x1="287.4" y1="124.6" x2="289.8" y2="124.6" stroke="#999" stroke-width="0.7" />
<text x="286.2" y="126.6" font-size="5.6" text-anchor="end" font-weight="normal" fill="#111"  stroke="#111" stroke-width="0.14">0.00</text>
<line x1="287.4" y1="114.0" x2="289.8" y2="114.0" stroke="#999" stroke-width="0.7" />
<text x="286.2" y="116.0" font-size="5.6" text-anchor="end" font-weight="normal" fill="#111"  stroke="#111" stroke-width="0.14">0.02</text>
<line x1="287.4" y1="103.4" x2="289.8" y2="103.4" stroke="#999" stroke-width="0.7" />
<text x="286.2" y="105.4" font-size="5.6" text-anchor="end" font-weight="normal" fill="#111"  stroke="#111" stroke-width="0.14">0.04</text>
<line x1="287.4" y1="92.8" x2="289.8" y2="92.8" stroke="#999" stroke-width="0.7" />
<text x="286.2" y="94.8" font-size="5.6" text-anchor="end" font-weight="normal" fill="#111"  stroke="#111" stroke-width="0.14">0.06</text>
<line x1="287.4" y1="82.2" x2="289.8" y2="82.2" stroke="#999" stroke-width="0.7" />
<text x="286.2" y="84.2" font-size="5.6" text-anchor="end" font-weight="normal" fill="#111"  stroke="#111" stroke-width="0.14">0.08</text>
<line x1="287.4" y1="71.6" x2="289.8" y2="71.6" stroke="#999" stroke-width="0.7" />
<text x="286.2" y="73.6" font-size="5.6" text-anchor="end" font-weight="normal" fill="#111"  stroke="#111" stroke-width="0.14">0.10</text>
<line x1="287.4" y1="61.0" x2="289.8" y2="61.0" stroke="#999" stroke-width="0.7" />
<text x="286.2" y="63.0" font-size="5.6" text-anchor="end" font-weight="normal" fill="#111"  stroke="#111" stroke-width="0.14">0.12</text>
<line x1="287.4" y1="50.4" x2="289.8" y2="50.4" stroke="#999" stroke-width="0.7" />
<text x="286.2" y="52.4" font-size="5.6" text-anchor="end" font-weight="normal" fill="#111"  stroke="#111" stroke-width="0.14">0.14</text>
<line x1="287.4" y1="39.8" x2="289.8" y2="39.8" stroke="#999" stroke-width="0.7" />
<text x="286.2" y="41.8" font-size="5.6" text-anchor="end" font-weight="normal" fill="#111"  stroke="#111" stroke-width="0.14">0.16</text>
<line x1="287.4" y1="29.2" x2="289.8" y2="29.2" stroke="#999" stroke-width="0.7" />
<text x="286.2" y="31.2" font-size="5.6" text-anchor="end" font-weight="normal" fill="#111"  stroke="#111" stroke-width="0.14">0.18</text>
<line x1="287.4" y1="18.6" x2="289.8" y2="18.6" stroke="#999" stroke-width="0.7" />
<text x="286.2" y="20.6" font-size="5.6" text-anchor="end" font-weight="normal" fill="#111"  stroke="#111" stroke-width="0.14">0.20</text>
<line x1="289.8" y1="135.0" x2="289.8" y2="137.2" stroke="#999" stroke-width="0.7" />
<text transform="translate(289.8,142.8) scale(0.86,1)" font-size="5.4" text-anchor="middle" font-weight="normal" fill="#111"  stroke="#111" stroke-width="0.14">14</text>
<line x1="296.9" y1="135.0" x2="296.9" y2="137.2" stroke="#999" stroke-width="0.7" />
<text transform="translate(296.9,142.8) scale(0.86,1)" font-size="5.4" text-anchor="middle" font-weight="normal" fill="#111"  stroke="#111" stroke-width="0.14">15</text>
<line x1="303.9" y1="135.0" x2="303.9" y2="137.2" stroke="#999" stroke-width="0.7" />
<text transform="translate(303.9,142.8) scale(0.86,1)" font-size="5.4" text-anchor="middle" font-weight="normal" fill="#111"  stroke="#111" stroke-width="0.14">16</text>
<line x1="311.0" y1="135.0" x2="311.0" y2="137.2" stroke="#999" stroke-width="0.7" />
<text transform="translate(311.0,142.8) scale(0.86,1)" font-size="5.4" text-anchor="middle" font-weight="normal" fill="#111"  stroke="#111" stroke-width="0.14">17</text>
<line x1="318.0" y1="135.0" x2="318.0" y2="137.2" stroke="#999" stroke-width="0.7" />
<text transform="translate(318.0,142.8) scale(0.86,1)" font-size="5.4" text-anchor="middle" font-weight="normal" fill="#111"  stroke="#111" stroke-width="0.14">18</text>
<line x1="325.1" y1="135.0" x2="325.1" y2="137.2" stroke="#999" stroke-width="0.7" />
<text transform="translate(325.1,142.8) scale(0.86,1)" font-size="5.4" text-anchor="middle" font-weight="normal" fill="#111"  stroke="#111" stroke-width="0.14">19</text>
<line x1="332.2" y1="135.0" x2="332.2" y2="137.2" stroke="#999" stroke-width="0.7" />
<text transform="translate(332.2,142.8) scale(0.86,1)" font-size="5.4" text-anchor="middle" font-weight="normal" fill="#111"  stroke="#111" stroke-width="0.14">20</text>
<line x1="339.2" y1="135.0" x2="339.2" y2="137.2" stroke="#999" stroke-width="0.7" />
<text transform="translate(339.2,142.8) scale(0.86,1)" font-size="5.4" text-anchor="middle" font-weight="normal" fill="#111"  stroke="#111" stroke-width="0.14">21</text>
<line x1="346.3" y1="135.0" x2="346.3" y2="137.2" stroke="#999" stroke-width="0.7" />
<text transform="translate(346.3,142.8) scale(0.86,1)" font-size="5.4" text-anchor="middle" font-weight="normal" fill="#111"  stroke="#111" stroke-width="0.14">22</text>
<line x1="353.3" y1="135.0" x2="353.3" y2="137.2" stroke="#999" stroke-width="0.7" />
<text transform="translate(353.3,142.8) scale(0.86,1)" font-size="5.4" text-anchor="middle" font-weight="normal" fill="#111"  stroke="#111" stroke-width="0.14">23</text>
<line x1="360.4" y1="135.0" x2="360.4" y2="137.2" stroke="#999" stroke-width="0.7" />
<text transform="translate(360.4,142.8) scale(0.86,1)" font-size="5.4" text-anchor="middle" font-weight="normal" fill="#111"  stroke="#111" stroke-width="0.14">24</text>
<line x1="367.5" y1="135.0" x2="367.5" y2="137.2" stroke="#999" stroke-width="0.7" />
<text transform="translate(367.5,142.8) scale(0.86,1)" font-size="5.4" text-anchor="middle" font-weight="normal" fill="#111"  stroke="#111" stroke-width="0.14">25</text>
<line x1="374.5" y1="135.0" x2="374.5" y2="137.2" stroke="#999" stroke-width="0.7" />
<text transform="translate(374.5,142.8) scale(0.86,1)" font-size="5.4" text-anchor="middle" font-weight="normal" fill="#111"  stroke="#111" stroke-width="0.14">26</text>
<line x1="381.6" y1="135.0" x2="381.6" y2="137.2" stroke="#999" stroke-width="0.7" />
<text transform="translate(381.6,142.8) scale(0.86,1)" font-size="5.4" text-anchor="middle" font-weight="normal" fill="#111"  stroke="#111" stroke-width="0.14">27</text>
<line x1="388.6" y1="135.0" x2="388.6" y2="137.2" stroke="#999" stroke-width="0.7" />
<text transform="translate(388.6,142.8) scale(0.86,1)" font-size="5.4" text-anchor="middle" font-weight="normal" fill="#111"  stroke="#111" stroke-width="0.14">28</text>
<line x1="395.7" y1="135.0" x2="395.7" y2="137.2" stroke="#999" stroke-width="0.7" />
<text transform="translate(395.7,142.8) scale(0.86,1)" font-size="5.4" text-anchor="middle" font-weight="normal" fill="#111"  stroke="#111" stroke-width="0.14">29</text>
<line x1="402.8" y1="135.0" x2="402.8" y2="137.2" stroke="#999" stroke-width="0.7" />
<text transform="translate(402.8,142.8) scale(0.86,1)" font-size="5.4" text-anchor="middle" font-weight="normal" fill="#111"  stroke="#111" stroke-width="0.14">30</text>
<line x1="409.8" y1="135.0" x2="409.8" y2="137.2" stroke="#999" stroke-width="0.7" />
<text transform="translate(409.8,142.8) scale(0.86,1)" font-size="5.4" text-anchor="middle" font-weight="normal" fill="#111"  stroke="#111" stroke-width="0.14">31</text>
<line x1="416.9" y1="135.0" x2="416.9" y2="137.2" stroke="#999" stroke-width="0.7" />
<text transform="translate(416.9,142.8) scale(0.86,1)" font-size="5.4" text-anchor="middle" font-weight="normal" fill="#111"  stroke="#111" stroke-width="0.14">32</text>
<line x1="423.9" y1="135.0" x2="423.9" y2="137.2" stroke="#999" stroke-width="0.7" />
<text transform="translate(423.9,142.8) scale(0.86,1)" font-size="5.4" text-anchor="middle" font-weight="normal" fill="#111"  stroke="#111" stroke-width="0.14">33</text>
<line x1="431.0" y1="135.0" x2="431.0" y2="137.2" stroke="#999" stroke-width="0.7" />
<text transform="translate(431.0,142.8) scale(0.86,1)" font-size="5.4" text-anchor="middle" font-weight="normal" fill="#111"  stroke="#111" stroke-width="0.14">34</text>
<line x1="438.1" y1="135.0" x2="438.1" y2="137.2" stroke="#999" stroke-width="0.7" />
<text transform="translate(438.1,142.8) scale(0.86,1)" font-size="5.4" text-anchor="middle" font-weight="normal" fill="#111"  stroke="#111" stroke-width="0.14">35</text>
<line x1="445.1" y1="135.0" x2="445.1" y2="137.2" stroke="#999" stroke-width="0.7" />
<text transform="translate(445.1,142.8) scale(0.86,1)" font-size="5.4" text-anchor="middle" font-weight="normal" fill="#111"  stroke="#111" stroke-width="0.14">36</text>
<line x1="452.2" y1="135.0" x2="452.2" y2="137.2" stroke="#999" stroke-width="0.7" />
<text transform="translate(452.2,142.8) scale(0.86,1)" font-size="5.4" text-anchor="middle" font-weight="normal" fill="#111"  stroke="#111" stroke-width="0.14">37</text>
<line x1="459.2" y1="135.0" x2="459.2" y2="137.2" stroke="#999" stroke-width="0.7" />
<text transform="translate(459.2,142.8) scale(0.86,1)" font-size="5.4" text-anchor="middle" font-weight="normal" fill="#111"  stroke="#111" stroke-width="0.14">38</text>
<line x1="466.3" y1="135.0" x2="466.3" y2="137.2" stroke="#999" stroke-width="0.7" />
<text transform="translate(466.3,142.8) scale(0.86,1)" font-size="5.4" text-anchor="middle" font-weight="normal" fill="#111"  stroke="#111" stroke-width="0.14">39</text>
<line x1="473.4" y1="135.0" x2="473.4" y2="137.2" stroke="#999" stroke-width="0.7" />
<text transform="translate(473.4,142.8) scale(0.86,1)" font-size="5.4" text-anchor="middle" font-weight="normal" fill="#111"  stroke="#111" stroke-width="0.14">40</text>
<line x1="480.4" y1="135.0" x2="480.4" y2="137.2" stroke="#999" stroke-width="0.7" />
<text transform="translate(480.4,142.8) scale(0.86,1)" font-size="5.4" text-anchor="middle" font-weight="normal" fill="#111"  stroke="#111" stroke-width="0.14">41</text>
<line x1="487.5" y1="135.0" x2="487.5" y2="137.2" stroke="#999" stroke-width="0.7" />
<text transform="translate(487.5,142.8) scale(0.86,1)" font-size="5.4" text-anchor="middle" font-weight="normal" fill="#111"  stroke="#111" stroke-width="0.14">42</text>
<line x1="494.5" y1="135.0" x2="494.5" y2="137.2" stroke="#999" stroke-width="0.7" />
<text transform="translate(494.5,142.8) scale(0.86,1)" font-size="5.4" text-anchor="middle" font-weight="normal" fill="#111"  stroke="#111" stroke-width="0.14">43</text>
<line x1="501.6" y1="135.0" x2="501.6" y2="137.2" stroke="#999" stroke-width="0.7" />
<text transform="translate(501.6,142.8) scale(0.86,1)" font-size="5.4" text-anchor="middle" font-weight="normal" fill="#111"  stroke="#111" stroke-width="0.14">44</text>
<line x1="508.7" y1="135.0" x2="508.7" y2="137.2" stroke="#999" stroke-width="0.7" />
<text transform="translate(508.7,142.8) scale(0.86,1)" font-size="5.4" text-anchor="middle" font-weight="normal" fill="#111"  stroke="#111" stroke-width="0.14">45</text>
<line x1="515.7" y1="135.0" x2="515.7" y2="137.2" stroke="#999" stroke-width="0.7" />
<text transform="translate(515.7,142.8) scale(0.86,1)" font-size="5.4" text-anchor="middle" font-weight="normal" fill="#111"  stroke="#111" stroke-width="0.14">46</text>
<text x="404.1" y="153.7" font-size="8.1" text-anchor="middle" font-weight="bold" fill="#000" >Cycle no.</text>
<text transform="translate(266.3,77.4) rotate(-90) scale(1.022,0.9)" font-size="8" text-anchor="middle" font-weight="bold" fill="#000">Fluorescence (F2/F1)</text>
<text x="260.0" y="14.0" font-size="17.8" text-anchor="start" font-weight="bold" fill="#000" >B</text>
<line x1="440.0" y1="122.2" x2="510.0" y2="122.2" stroke="#808080" stroke-width="0.8" stroke-dasharray="0.6,0.98"/>
<path d="M289.8,124.2 L290.8,124.2 L291.8,124.2 L292.8,124.2 L293.8,124.2 L294.8,124.2 L295.8,124.1 L296.8,124.1 L297.8,124.0 L298.8,123.9 L299.8,123.9 L300.8,123.8 L301.8,123.7 L302.8,123.7 L303.8,123.6 L304.8,123.6 L305.8,123.5 L306.8,123.5 L307.8,123.4 L308.8,123.4 L309.8,123.3 L310.8,123.3 L311.8,123.3 L312.8,123.2 L313.8,123.2 L314.8,123.2 L315.8,123.2 L316.8,123.2 L317.8,123.2 L318.8,123.2 L319.8,123.2 L320.8,123.2 L321.8,123.3 L322.8,123.3 L323.8,123.3 L324.8,123.3 L325.8,123.4 L326.8,123.4 L327.8,123.4 L328.8,123.4 L329.8,123.4 L330.8,123.4 L331.8,123.4 L332.8,123.4 L333.8,123.4 L334.8,123.3 L335.8,123.3 L336.8,123.2 L337.8,123.1 L338.8,123.0 L339.8,122.9 L340.8,122.8 L341.8,122.6 L342.8,122.5 L343.8,122.3 L344.8,122.1 L345.8,121.8 L346.8,121.6 L347.8,121.3 L348.8,120.9 L349.8,120.6 L350.8,120.2 L351.8,119.8 L352.8,119.4 L353.8,119.0 L354.8,118.5 L355.8,118.0 L356.8,117.5 L357.8,116.9 L358.8,116.3 L359.8,115.7 L360.8,115.1 L361.8,114.4 L362.8,113.7 L363.8,113.0 L364.8,112.2 L365.8,111.4 L366.8,110.6 L367.8,109.7 L368.8,108.9 L369.8,108.0 L370.8,107.0 L371.8,106.1 L372.8,105.1 L373.8,104.0 L374.8,103.0 L375.8,101.9 L376.8,100.8 L377.8,99.6 L378.8,98.4 L379.8,97.3 L380.8,96.0 L381.8,94.8 L382.8,93.6 L383.8,92.3 L384.8,91.1 L385.8,89.8 L386.8,88.5 L387.8,87.2 L388.8,86.0 L389.8,84.7 L390.8,83.4 L391.8,82.1 L392.8,80.9 L393.8,79.6 L394.8,78.3 L395.8,77.1 L396.8,75.9 L397.8,74.7 L398.8,73.5 L399.8,72.3 L400.8,71.2 L401.8,70.1 L402.8,69.0 L403.8,67.9 L404.8,66.8 L405.8,65.8 L406.8,64.8 L407.8,63.8 L408.8,62.8 L409.8,61.9 L410.8,60.9 L411.8,60.0 L412.8,59.1 L413.8,58.3 L414.8,57.4 L415.8,56.6 L416.8,55.8 L417.8,55.0 L418.8,54.2 L419.8,53.4 L420.8,52.7 L421.8,52.0 L422.8,51.3 L423.8,50.6 L424.8,49.9 L425.8,49.2 L426.8,48.6 L427.8,48.0 L428.8,47.4 L429.8,46.8 L430.8,46.2 L431.8,45.6 L432.8,45.1 L433.8,44.5 L434.8,44.0 L435.8,43.5 L436.8,43.0 L437.8,42.5 L438.8,42.1 L439.8,41.6 L440.8,41.2 L441.8,40.7 L442.8,40.3 L443.8,39.9 L444.8,39.5 L445.8,39.1 L446.8,38.7 L447.8,38.4 L448.8,38.0 L449.8,37.7 L450.8,37.4 L451.8,37.0 L452.8,36.7 L453.8,36.4 L454.8,36.1 L455.8,35.8 L456.8,35.5 L457.8,35.3 L458.8,35.0 L459.8,34.7 L460.8,34.5 L461.8,34.3 L462.8,34.0 L463.8,33.8 L464.8,33.6 L465.8,33.3 L466.8,33.1 L467.8,32.9 L468.8,32.7 L469.8,32.5 L470.8,32.3 L471.8,32.1 L472.8,32.0 L473.8,31.8 L474.8,31.6 L475.8,31.4 L476.8,31.2 L477.8,31.1 L478.8,30.9 L479.8,30.7 L480.8,30.6 L481.8,30.4 L482.8,30.3 L483.8,30.1 L484.8,29.9 L485.8,29.8 L486.8,29.6 L487.8,29.5 L488.8,29.3 L489.8,29.2 L490.8,29.0 L491.8,28.8 L492.8,28.7 L493.8,28.5 L494.8,28.4 L495.8,28.2 L496.8,28.0 L497.8,27.9 L498.8,27.7 L499.8,27.5 L500.8,27.3 L501.8,27.1 L502.8,26.9 L503.8,26.8 L504.8,26.6 L505.8,26.4 L506.8,26.2 L507.8,25.9 L508.7,25.8" fill="none" stroke="#222" stroke-width="0.82"/>
<path d="M289.8,124.2 L290.8,124.2 L291.8,124.1 L292.8,124.1 L293.8,124.1 L294.8,124.1 L295.8,124.1 L296.8,124.0 L297.8,124.0 L298.8,124.0 L299.8,124.0 L300.8,123.9 L301.8,123.9 L302.8,123.9 L303.8,123.9 L304.8,123.8 L305.8,123.8 L306.8,123.8 L307.8,123.8 L308.8,123.7 L309.8,123.7 L310.8,123.7 L311.8,123.7 L312.8,123.6 L313.8,123.6 L314.8,123.6 L315.8,123.6 L316.8,123.5 L317.8,123.5 L318.8,123.5 L319.8,123.5 L320.8,123.4 L321.8,123.4 L322.8,123.4 L323.8,123.4 L324.8,123.4 L325.8,123.3 L326.8,123.3 L327.8,123.3 L328.8,123.3 L329.8,123.3 L330.8,123.2 L331.8,123.2 L332.8,123.2 L333.8,123.2 L334.8,123.2 L335.8,123.2 L336.8,123.1 L337.8,123.1 L338.8,123.1 L339.8,123.1 L340.8,123.1 L341.8,123.1 L342.8,123.1 L343.8,123.1 L344.8,123.1 L345.8,123.1 L346.8,123.1 L347.8,123.1 L348.8,123.1 L349.8,123.1 L350.8,123.1 L351.8,123.0 L352.8,123.0 L353.8,123.0 L354.8,123.0 L355.8,123.0 L356.8,122.9 L357.8,122.9 L358.8,122.8 L359.8,122.7 L360.8,122.7 L361.8,122.6 L362.8,122.5 L363.8,122.4 L364.8,122.2 L365.8,122.1 L366.8,121.9 L367.8,121.7 L368.8,121.5 L369.8,121.3 L370.8,121.1 L371.8,120.8 L372.8,120.6 L373.8,120.3 L374.8,119.9 L375.8,119.6 L376.8,119.2 L377.8,118.8 L378.8,118.4 L379.8,117.9 L380.8,117.4 L381.8,116.9 L382.8,116.4 L383.8,115.8 L384.8,115.2 L385.8,114.6 L386.8,113.9 L387.8,113.2 L388.8,112.4 L389.8,111.7 L390.8,110.8 L391.8,110.0 L392.8,109.1 L393.8,108.2 L394.8,107.2 L395.8,106.2 L396.8,105.1 L397.8,104.0 L398.8,102.8 L399.8,101.7 L400.8,100.4 L401.8,99.1 L402.8,97.8 L403.8,96.5 L404.8,95.1 L405.8,93.7 L406.8,92.3 L407.8,90.8 L408.8,89.4 L409.8,87.9 L410.8,86.5 L411.8,85.0 L412.8,83.6 L413.8,82.1 L414.8,80.7 L415.8,79.3 L416.8,77.9 L417.8,76.6 L418.8,75.2 L419.8,73.9 L420.8,72.6 L421.8,71.3 L422.8,70.0 L423.8,68.8 L424.8,67.5 L425.8,66.3 L426.8,65.2 L427.8,64.0 L428.8,62.9 L429.8,61.7 L430.8,60.7 L431.8,59.6 L432.8,58.5 L433.8,57.5 L434.8,56.5 L435.8,55.5 L436.8,54.6 L437.8,53.7 L438.8,52.7 L439.8,51.8 L440.8,51.0 L441.8,50.1 L442.8,49.3 L443.8,48.5 L444.8,47.7 L445.8,46.9 L446.8,46.2 L447.8,45.5 L448.8,44.7 L449.8,44.1 L450.8,43.4 L451.8,42.7 L452.8,42.1 L453.8,41.5 L454.8,40.9 L455.8,40.3 L456.8,39.7 L457.8,39.2 L458.8,38.7 L459.8,38.2 L460.8,37.7 L461.8,37.2 L462.8,36.7 L463.8,36.3 L464.8,35.8 L465.8,35.4 L466.8,35.0 L467.8,34.6 L468.8,34.2 L469.8,33.9 L470.8,33.5 L471.8,33.2 L472.8,32.9 L473.8,32.5 L474.8,32.2 L475.8,31.9 L476.8,31.6 L477.8,31.4 L478.8,31.1 L479.8,30.8 L480.8,30.6 L481.8,30.3 L482.8,30.1 L483.8,29.9 L484.8,29.7 L485.8,29.5 L486.8,29.3 L487.8,29.1 L488.8,28.9 L489.8,28.7 L490.8,28.5 L491.8,28.3 L492.8,28.1 L493.8,28.0 L494.8,27.8 L495.8,27.6 L496.8,27.5 L497.8,27.3 L498.8,27.1 L499.8,27.0 L500.8,26.8 L501.8,26.7 L502.8,26.5 L503.8,26.3 L504.8,26.2 L505.8,26.0 L506.8,25.9 L507.8,25.7 L508.7,25.6" fill="none" stroke="#222" stroke-width="0.82"/>
<path d="M289.8,123.8 L290.8,123.9 L291.8,123.9 L292.8,123.9 L293.8,124.0 L294.8,124.0 L295.8,124.0 L296.8,124.0 L297.8,124.1 L298.8,124.1 L299.8,124.1 L300.8,124.1 L301.8,124.1 L302.8,124.1 L303.8,124.1 L304.8,124.1 L305.8,124.1 L306.8,124.0 L307.8,124.0 L308.8,124.0 L309.8,124.0 L310.8,123.9 L311.8,123.9 L312.8,123.9 L313.8,123.8 L314.8,123.8 L315.8,123.8 L316.8,123.7 L317.8,123.7 L318.8,123.7 L319.8,123.6 L320.8,123.6 L321.8,123.6 L322.8,123.5 L323.8,123.5 L324.8,123.4 L325.8,123.4 L326.8,123.4 L327.8,123.3 L328.8,123.3 L329.8,123.2 L330.8,123.2 L331.8,123.2 L332.8,123.1 L333.8,123.1 L334.8,123.1 L335.8,123.1 L336.8,123.0 L337.8,123.0 L338.8,123.0 L339.8,123.0 L340.8,123.0 L341.8,123.0 L342.8,123.0 L343.8,123.0 L344.8,123.0 L345.8,123.0 L346.8,123.0 L347.8,123.0 L348.8,123.0 L349.8,123.0 L350.8,123.1 L351.8,123.1 L352.8,123.1 L353.8,123.1 L354.8,123.2 L355.8,123.2 L356.8,123.2 L357.8,123.2 L358.8,123.3 L359.8,123.3 L360.8,123.3 L361.8,123.4 L362.8,123.4 L363.8,123.4 L364.8,123.4 L365.8,123.4 L366.8,123.4 L367.8,123.4 L368.8,123.4 L369.8,123.4 L370.8,123.4 L371.8,123.4 L372.8,123.4 L373.8,123.4 L374.8,123.3 L375.8,123.3 L376.8,123.2 L377.8,123.2 L378.8,123.1 L379.8,123.1 L380.8,123.0 L381.8,122.9 L382.8,122.8 L383.8,122.7 L384.8,122.5 L385.8,122.4 L386.8,122.3 L387.8,122.1 L388.8,121.9 L389.8,121.7 L390.8,121.5 L391.8,121.3 L392.8,121.1 L393.8,120.9 L394.8,120.6 L395.8,120.3 L396.8,120.1 L397.8,119.8 L398.8,119.5 L399.8,119.1 L400.8,118.8 L401.8,118.4 L402.8,118.0 L403.8,117.6 L404.8,117.1 L405.8,116.6 L406.8,116.1 L407.8,115.5 L408.8,114.9 L409.8,114.2 L410.8,113.5 L411.8,112.7 L412.8,111.9 L413.8,111.0 L414.8,110.0 L415.8,109.0 L416.8,107.9 L417.8,106.7 L418.8,105.5 L419.8,104.3 L420.8,103.0 L421.8,101.7 L422.8,100.4 L423.8,99.0 L424.8,97.6 L425.8,96.2 L426.8,94.8 L427.8,93.4 L428.8,92.0 L429.8,90.6 L430.8,89.2 L431.8,87.8 L432.8,86.4 L433.8,85.0 L434.8,83.6 L435.8,82.3 L436.8,80.9 L437.8,79.6 L438.8,78.2 L439.8,76.9 L440.8,75.6 L441.8,74.3 L442.8,73.0 L443.8,71.8 L444.8,70.5 L445.8,69.3 L446.8,68.1 L447.8,66.9 L448.8,65.8 L449.8,64.7 L450.8,63.6 L451.8,62.5 L452.8,61.4 L453.8,60.4 L454.8,59.4 L455.8,58.5 L456.8,57.6 L457.8,56.7 L458.8,55.8 L459.8,55.0 L460.8,54.2 L461.8,53.4 L462.8,52.6 L463.8,51.9 L464.8,51.2 L465.8,50.5 L466.8,49.8 L467.8,49.2 L468.8,48.6 L469.8,48.0 L470.8,47.4 L471.8,46.8 L472.8,46.3 L473.8,45.7 L474.8,45.2 L475.8,44.7 L476.8,44.2 L477.8,43.7 L478.8,43.3 L479.8,42.8 L480.8,42.3 L481.8,41.9 L482.8,41.4 L483.8,41.0 L484.8,40.6 L485.8,40.1 L486.8,39.7 L487.8,39.3 L488.8,38.8 L489.8,38.4 L490.8,37.9 L491.8,37.5 L492.8,37.1 L493.8,36.6 L494.8,36.2 L495.8,35.7 L496.8,35.2 L497.8,34.7 L498.8,34.2 L499.8,33.7 L500.8,33.2 L501.8,32.7 L502.8,32.2 L503.8,31.6 L504.8,31.0 L505.8,30.4 L506.8,29.8 L507.8,29.2 L508.7,28.6" fill="none" stroke="#4a4a4a" stroke-width="0.65"/>
<path d="M289.8,123.8 L290.8,123.9 L291.8,123.9 L292.8,124.0 L293.8,124.0 L294.8,124.0 L295.8,124.0 L296.8,124.0 L297.8,124.1 L298.8,124.1 L299.8,124.1 L300.8,124.1 L301.8,124.1 L302.8,124.1 L303.8,124.1 L304.8,124.0 L305.8,124.0 L306.8,124.0 L307.8,124.0 L308.8,124.0 L309.8,124.0 L310.8,123.9 L311.8,123.9 L312.8,123.9 L313.8,123.8 L314.8,123.8 L315.8,123.8 L316.8,123.7 L317.8,123.7 L318.8,123.7 L319.8,123.6 L320.8,123.6 L321.8,123.6 L322.8,123.5 L323.8,123.5 L324.8,123.4 L325.8,123.4 L326.8,123.4 L327.8,123.3 L328.8,123.3 L329.8,123.3 L330.8,123.2 L331.8,123.2 L332.8,123.2 L333.8,123.1 L334.8,123.1 L335.8,123.1 L336.8,123.1 L337.8,123.0 L338.8,123.0 L339.8,123.0 L340.8,123.0 L341.8,123.0 L342.8,123.0 L343.8,123.0 L344.8,123.0 L345.8,123.0 L346.8,123.0 L347.8,123.0 L348.8,123.0 L349.8,123.0 L350.8,123.1 L351.8,123.1 L352.8,123.1 L353.8,123.1 L354.8,123.2 L355.8,123.2 L356.8,123.2 L357.8,123.2 L358.8,123.3 L359.8,123.3 L360.8,123.3 L361.8,123.3 L362.8,123.4 L363.8,123.4 L364.8,123.4 L365.8,123.4 L366.8,123.4 L367.8,123.4 L368.8,123.4 L369.8,123.4 L370.8,123.4 L371.8,123.4 L372.8,123.4 L373.8,123.3 L374.8,123.3 L375.8,123.3 L376.8,123.2 L377.8,123.1 L378.8,123.1 L379.8,123.0 L380.8,122.9 L381.8,122.8 L382.8,122.7 L383.8,122.6 L384.8,122.5 L385.8,122.4 L386.8,122.2 L387.8,122.1 L388.8,121.9 L389.8,121.7 L390.8,121.5 L391.8,121.3 L392.8,121.1 L393.8,120.9 L394.8,120.7 L395.8,120.4 L396.8,120.1 L397.8,119.8 L398.8,119.5 L399.8,119.2 L400.8,118.9 L401.8,118.5 L402.8,118.1 L403.8,117.7 L404.8,117.3 L405.8,116.8 L406.8,116.3 L407.8,115.8 L408.8,115.2 L409.8,114.5 L410.8,113.9 L411.8,113.1 L412.8,112.3 L413.8,111.4 L414.8,110.5 L415.8,109.5 L416.8,108.5 L417.8,107.4 L418.8,106.2 L419.8,105.1 L420.8,103.9 L421.8,102.6 L422.8,101.3 L423.8,100.0 L424.8,98.7 L425.8,97.4 L426.8,96.1 L427.8,94.7 L428.8,93.4 L429.8,92.0 L430.8,90.7 L431.8,89.4 L432.8,88.1 L433.8,86.8 L434.8,85.5 L435.8,84.2 L436.8,82.9 L437.8,81.6 L438.8,80.3 L439.8,79.1 L440.8,77.8 L441.8,76.6 L442.8,75.4 L443.8,74.2 L444.8,73.0 L445.8,71.9 L446.8,70.7 L447.8,69.6 L448.8,68.5 L449.8,67.4 L450.8,66.4 L451.8,65.4 L452.8,64.4 L453.8,63.4 L454.8,62.4 L455.8,61.5 L456.8,60.6 L457.8,59.7 L458.8,58.9 L459.8,58.0 L460.8,57.3 L461.8,56.5 L462.8,55.7 L463.8,55.0 L464.8,54.3 L465.8,53.6 L466.8,53.0 L467.8,52.3 L468.8,51.7 L469.8,51.1 L470.8,50.5 L471.8,49.9 L472.8,49.4 L473.8,48.9 L474.8,48.3 L475.8,47.8 L476.8,47.3 L477.8,46.8 L478.8,46.4 L479.8,45.9 L480.8,45.4 L481.8,45.0 L482.8,44.6 L483.8,44.1 L484.8,43.7 L485.8,43.3 L486.8,42.9 L487.8,42.5 L488.8,42.1 L489.8,41.7 L490.8,41.3 L491.8,40.9 L492.8,40.5 L493.8,40.1 L494.8,39.7 L495.8,39.3 L496.8,38.9 L497.8,38.4 L498.8,38.0 L499.8,37.6 L500.8,37.2 L501.8,36.8 L502.8,36.3 L503.8,35.9 L504.8,35.4 L505.8,35.0 L506.8,34.5 L507.8,34.0 L508.7,33.6" fill="none" stroke="#4a4a4a" stroke-width="0.65"/>
<path d="M289.8,123.9 L290.8,123.9 L291.8,123.9 L292.8,123.9 L293.8,123.9 L294.8,123.9 L295.8,123.9 L296.8,123.9 L297.8,123.9 L298.8,123.9 L299.8,123.9 L300.8,123.9 L301.8,123.9 L302.8,123.9 L303.8,123.9 L304.8,123.9 L305.8,123.9 L306.8,123.9 L307.8,123.9 L308.8,123.8 L309.8,123.8 L310.8,123.8 L311.8,123.8 L312.8,123.8 L313.8,123.8 L314.8,123.8 L315.8,123.8 L316.8,123.8 L317.8,123.7 L318.8,123.7 L319.8,123.7 L320.8,123.7 L321.8,123.7 L322.8,123.7 L323.8,123.7 L324.8,123.7 L325.8,123.6 L326.8,123.6 L327.8,123.6 L328.8,123.6 L329.8,123.6 L330.8,123.6 L331.8,123.6 L332.8,123.6 L333.8,123.5 L334.8,123.5 L335.8,123.5 L336.8,123.5 L337.8,123.5 L338.8,123.5 L339.8,123.4 L340.8,123.4 L341.8,123.4 L342.8,123.4 L343.8,123.4 L344.8,123.4 L345.8,123.4 L346.8,123.3 L347.8,123.3 L348.8,123.3 L349.8,123.3 L350.8,123.3 L351.8,123.3 L352.8,123.3 L353.8,123.2 L354.8,123.2 L355.8,123.2 L356.8,123.2 L357.8,123.2 L358.8,123.2 L359.8,123.2 L360.8,123.2 L361.8,123.1 L362.8,123.1 L363.8,123.1 L364.8,123.1 L365.8,123.1 L366.8,123.1 L367.8,123.1 L368.8,123.1 L369.8,123.0 L370.8,123.0 L371.8,123.0 L372.8,123.0 L373.8,123.0 L374.8,123.0 L375.8,123.0 L376.8,123.0 L377.8,123.0 L378.8,123.0 L379.8,123.0 L380.8,122.9 L381.8,122.9 L382.8,122.9 L383.8,122.9 L384.8,122.9 L385.8,122.9 L386.8,122.9 L387.8,122.9 L388.8,122.9 L389.8,122.9 L390.8,122.9 L391.8,122.9 L392.8,122.9 L393.8,122.9 L394.8,122.9 L395.8,122.9 L396.8,122.9 L397.8,122.9 L398.8,122.9 L399.8,122.9 L400.8,122.9 L401.8,122.9 L402.8,122.9 L403.8,122.9 L404.8,122.9 L405.8,122.9 L406.8,122.8 L407.8,122.8 L408.8,122.7 L409.8,122.7 L410.8,122.6 L411.8,122.5 L412.8,122.3 L413.8,122.2 L414.8,122.0 L415.8,121.8 L416.8,121.6 L417.8,121.3 L418.8,121.0 L419.8,120.7 L420.8,120.3 L421.8,119.9 L422.8,119.5 L423.8,119.0 L424.8,118.5 L425.8,118.0 L426.8,117.4 L427.8,116.7 L428.8,116.0 L429.8,115.3 L430.8,114.5 L431.8,113.6 L432.8,112.7 L433.8,111.8 L434.8,110.9 L435.8,109.9 L436.8,108.8 L437.8,107.8 L438.8,106.7 L439.8,105.5 L440.8,104.4 L441.8,103.2 L442.8,102.0 L443.8,100.8 L444.8,99.5 L445.8,98.2 L446.8,96.9 L447.8,95.6 L448.8,94.3 L449.8,92.9 L450.8,91.6 L451.8,90.2 L452.8,88.8 L453.8,87.5 L454.8,86.1 L455.8,84.7 L456.8,83.3 L457.8,81.9 L458.8,80.5 L459.8,79.1 L460.8,77.8 L461.8,76.4 L462.8,75.1 L463.8,73.8 L464.8,72.6 L465.8,71.4 L466.8,70.2 L467.8,69.1 L468.8,68.0 L469.8,67.0 L470.8,66.0 L471.8,65.1 L472.8,64.2 L473.8,63.4 L474.8,62.6 L475.8,61.9 L476.8,61.2 L477.8,60.5 L478.8,59.8 L479.8,59.1 L480.8,58.5 L481.8,57.8 L482.8,57.1 L483.8,56.4 L484.8,55.7 L485.8,55.0 L486.8,54.3 L487.8,53.6 L488.8,52.8 L489.8,52.1 L490.8,51.3 L491.8,50.6 L492.8,49.9 L493.8,49.1 L494.8,48.4 L495.8,47.7 L496.8,47.0 L497.8,46.3 L498.8,45.7 L499.8,45.0 L500.8,44.4 L501.8,43.8 L502.8,43.3 L503.8,42.8 L504.8,42.3 L505.8,41.8 L506.8,41.4 L507.8,41.1 L508.7,40.8" fill="none" stroke="#4a4a4a" stroke-width="0.65"/>
<path d="M289.8,124.0 L290.8,124.0 L291.8,124.0 L292.8,123.9 L293.8,123.9 L294.8,123.9 L295.8,123.9 L296.8,123.9 L297.8,123.9 L298.8,123.9 L299.8,123.9 L300.8,123.9 L301.8,123.9 L302.8,123.9 L303.8,123.9 L304.8,123.9 L305.8,123.9 L306.8,123.9 L307.8,123.8 L308.8,123.8 L309.8,123.8 L310.8,123.8 L311.8,123.8 L312.8,123.8 L313.8,123.8 L314.8,123.8 L315.8,123.8 L316.8,123.7 L317.8,123.7 L318.8,123.7 L319.8,123.7 L320.8,123.7 L321.8,123.7 L322.8,123.7 L323.8,123.7 L324.8,123.7 L325.8,123.6 L326.8,123.6 L327.8,123.6 L328.8,123.6 L329.8,123.6 L330.8,123.6 L331.8,123.6 L332.8,123.5 L333.8,123.5 L334.8,123.5 L335.8,123.5 L336.8,123.5 L337.8,123.5 L338.8,123.5 L339.8,123.4 L340.8,123.4 L341.8,123.4 L342.8,123.4 L343.8,123.4 L344.8,123.4 L345.8,123.4 L346.8,123.4 L347.8,123.3 L348.8,123.3 L349.8,123.3 L350.8,123.3 L351.8,123.3 L352.8,123.3 L353.8,123.3 L354.8,123.2 L355.8,123.2 L356.8,123.2 L357.8,123.2 L358.8,123.2 L359.8,123.2 L360.8,123.2 L361.8,123.2 L362.8,123.1 L363.8,123.1 L364.8,123.1 L365.8,123.1 L366.8,123.1 L367.8,123.1 L368.8,123.1 L369.8,123.1 L370.8,123.0 L371.8,123.0 L372.8,123.0 L373.8,123.0 L374.8,123.0 L375.8,123.0 L376.8,123.0 L377.8,123.0 L378.8,123.0 L379.8,123.0 L380.8,123.0 L381.8,122.9 L382.8,122.9 L383.8,122.9 L384.8,122.9 L385.8,122.9 L386.8,122.9 L387.8,122.9 L388.8,122.9 L389.8,122.9 L390.8,122.9 L391.8,122.9 L392.8,122.9 L393.8,122.9 L394.8,122.9 L395.8,122.9 L396.8,122.9 L397.8,122.9 L398.8,122.9 L399.8,122.9 L400.8,122.9 L401.8,122.9 L402.8,122.9 L403.8,122.9 L404.8,122.8 L405.8,122.8 L406.8,122.8 L407.8,122.7 L408.8,122.7 L409.8,122.6 L410.8,122.5 L411.8,122.4 L412.8,122.3 L413.8,122.2 L414.8,122.0 L415.8,121.8 L416.8,121.6 L417.8,121.3 L418.8,121.0 L419.8,120.7 L420.8,120.4 L421.8,120.0 L422.8,119.6 L423.8,119.2 L424.8,118.7 L425.8,118.1 L426.8,117.6 L427.8,116.9 L428.8,116.3 L429.8,115.6 L430.8,114.8 L431.8,114.0 L432.8,113.2 L433.8,112.3 L434.8,111.4 L435.8,110.5 L436.8,109.5 L437.8,108.5 L438.8,107.5 L439.8,106.4 L440.8,105.3 L441.8,104.2 L442.8,103.0 L443.8,101.9 L444.8,100.7 L445.8,99.5 L446.8,98.3 L447.8,97.0 L448.8,95.8 L449.8,94.5 L450.8,93.3 L451.8,92.0 L452.8,90.7 L453.8,89.4 L454.8,88.1 L455.8,86.8 L456.8,85.5 L457.8,84.2 L458.8,82.9 L459.8,81.6 L460.8,80.4 L461.8,79.1 L462.8,77.9 L463.8,76.7 L464.8,75.5 L465.8,74.3 L466.8,73.2 L467.8,72.1 L468.8,71.0 L469.8,70.0 L470.8,69.0 L471.8,68.1 L472.8,67.2 L473.8,66.3 L474.8,65.5 L475.8,64.7 L476.8,63.9 L477.8,63.2 L478.8,62.5 L479.8,61.8 L480.8,61.1 L481.8,60.4 L482.8,59.7 L483.8,59.0 L484.8,58.3 L485.8,57.7 L486.8,57.0 L487.8,56.4 L488.8,55.7 L489.8,55.1 L490.8,54.4 L491.8,53.8 L492.8,53.1 L493.8,52.5 L494.8,51.9 L495.8,51.3 L496.8,50.7 L497.8,50.1 L498.8,49.6 L499.8,49.0 L500.8,48.5 L501.8,47.9 L502.8,47.4 L503.8,46.9 L504.8,46.4 L505.8,46.0 L506.8,45.5 L507.8,45.1 L508.7,44.7" fill="none" stroke="#4a4a4a" stroke-width="0.65"/>
<path d="M289.8,123.7 L290.8,123.8 L291.8,123.8 L292.8,123.8 L293.8,123.8 L294.8,123.8 L295.8,123.8 L296.8,123.9 L297.8,123.9 L298.8,123.9 L299.8,123.9 L300.8,123.9 L301.8,123.9 L302.8,123.9 L303.8,123.9 L304.8,123.9 L305.8,123.9 L306.8,123.9 L307.8,123.9 L308.8,123.9 L309.8,123.9 L310.8,123.9 L311.8,123.9 L312.8,123.9 L313.8,123.9 L314.8,123.9 L315.8,123.9 L316.8,123.9 L317.8,123.9 L318.8,123.8 L319.8,123.8 L320.8,123.8 L321.8,123.8 L322.8,123.8 L323.8,123.8 L324.8,123.8 L325.8,123.8 L326.8,123.7 L327.8,123.7 L328.8,123.7 L329.8,123.7 L330.8,123.7 L331.8,123.7 L332.8,123.6 L333.8,123.6 L334.8,123.6 L335.8,123.6 L336.8,123.6 L337.8,123.6 L338.8,123.5 L339.8,123.5 L340.8,123.5 L341.8,123.5 L342.8,123.5 L343.8,123.4 L344.8,123.4 L345.8,123.4 L346.8,123.4 L347.8,123.4 L348.8,123.3 L349.8,123.3 L350.8,123.3 L351.8,123.3 L352.8,123.3 L353.8,123.3 L354.8,123.2 L355.8,123.2 L356.8,123.2 L357.8,123.2 L358.8,123.2 L359.8,123.2 L360.8,123.1 L361.8,123.1 L362.8,123.1 L363.8,123.1 L364.8,123.1 L365.8,123.1 L366.8,123.1 L367.8,123.0 L368.8,123.0 L369.8,123.0 L370.8,123.0 L371.8,123.0 L372.8,123.0 L373.8,123.0 L374.8,123.0 L375.8,123.0 L376.8,123.0 L377.8,123.0 L378.8,122.9 L379.8,122.9 L380.8,122.9 L381.8,122.9 L382.8,122.9 L383.8,122.9 L384.8,122.9 L385.8,122.9 L386.8,122.9 L387.8,123.0 L388.8,123.0 L389.8,123.0 L390.8,123.0 L391.8,123.0 L392.8,123.0 L393.8,123.0 L394.8,123.0 L395.8,123.0 L396.8,123.1 L397.8,123.1 L398.8,123.1 L399.8,123.1 L400.8,123.1 L401.8,123.2 L402.8,123.2 L403.8,123.2 L404.8,123.2 L405.8,123.3 L406.8,123.3 L407.8,123.3 L408.8,123.3 L409.8,123.3 L410.8,123.4 L411.8,123.4 L412.8,123.4 L413.8,123.4 L414.8,123.4 L415.8,123.4 L416.8,123.4 L417.8,123.4 L418.8,123.4 L419.8,123.4 L420.8,123.4 L421.8,123.4 L422.8,123.4 L423.8,123.3 L424.8,123.3 L425.8,123.3 L426.8,123.2 L427.8,123.2 L428.8,123.1 L429.8,123.0 L430.8,123.0 L431.8,122.9 L432.8,122.8 L433.8,122.7 L434.8,122.6 L435.8,122.5 L436.8,122.3 L437.8,122.2 L438.8,122.0 L439.8,121.9 L440.8,121.7 L441.8,121.5 L442.8,121.3 L443.8,121.1 L444.8,120.9 L445.8,120.7 L446.8,120.5 L447.8,120.2 L448.8,120.0 L449.8,119.7 L450.8,119.4 L451.8,119.1 L452.8,118.8 L453.8,118.4 L454.8,118.1 L455.8,117.7 L456.8,117.3 L457.8,116.9 L458.8,116.5 L459.8,116.1 L460.8,115.6 L461.8,115.2 L462.8,114.7 L463.8,114.2 L464.8,113.7 L465.8,113.2 L466.8,112.6 L467.8,112.1 L468.8,111.5 L469.8,110.9 L470.8,110.3 L471.8,109.7 L472.8,109.0 L473.8,108.4 L474.8,107.7 L475.8,107.0 L476.8,106.3 L477.8,105.6 L478.8,104.8 L479.8,104.1 L480.8,103.3 L481.8,102.5 L482.8,101.7 L483.8,100.8 L484.8,100.0 L485.8,99.1 L486.8,98.2 L487.8,97.3 L488.8,96.4 L489.8,95.5 L490.8,94.5 L491.8,93.5 L492.8,92.6 L493.8,91.6 L494.8,90.6 L495.8,89.5 L496.8,88.5 L497.8,87.5 L498.8,86.4 L499.8,85.4 L500.8,84.3 L501.8,83.2 L502.8,82.1 L503.8,81.0 L504.8,79.9 L505.8,78.8 L506.8,77.7 L507.8,76.5 L508.7,75.6" fill="none" stroke="#4a4a4a" stroke-width="0.65"/>
<path d="M289.8,123.8 L290.8,123.8 L291.8,123.8 L292.8,123.8 L293.8,123.8 L294.8,123.9 L295.8,123.9 L296.8,123.9 L297.8,123.9 L298.8,123.9 L299.8,123.9 L300.8,123.9 L301.8,123.9 L302.8,123.9 L303.8,123.9 L304.8,123.9 L305.8,123.9 L306.8,123.9 L307.8,123.9 L308.8,123.9 L309.8,123.9 L310.8,123.9 L311.8,123.9 L312.8,123.9 L313.8,123.9 L314.8,123.9 L315.8,123.8 L316.8,123.8 L317.8,123.8 L318.8,123.8 L319.8,123.8 L320.8,123.8 L321.8,123.8 L322.8,123.8 L323.8,123.8 L324.8,123.8 L325.8,123.7 L326.8,123.7 L327.8,123.7 L328.8,123.7 L329.8,123.7 L330.8,123.7 L331.8,123.7 L332.8,123.6 L333.8,123.6 L334.8,123.6 L335.8,123.6 L336.8,123.6 L337.8,123.6 L338.8,123.5 L339.8,123.5 L340.8,123.5 L341.8,123.5 L342.8,123.5 L343.8,123.5 L344.8,123.4 L345.8,123.4 L346.8,123.4 L347.8,123.4 L348.8,123.4 L349.8,123.4 L350.8,123.3 L351.8,123.3 L352.8,123.3 L353.8,123.3 L354.8,123.3 L355.8,123.3 L356.8,123.3 L357.8,123.2 L358.8,123.2 L359.8,123.2 L360.8,123.2 L361.8,123.2 L362.8,123.2 L363.8,123.2 L364.8,123.1 L365.8,123.1 L366.8,123.1 L367.8,123.1 L368.8,123.1 L369.8,123.1 L370.8,123.1 L371.8,123.1 L372.8,123.1 L373.8,123.1 L374.8,123.1 L375.8,123.1 L376.8,123.0 L377.8,123.0 L378.8,123.0 L379.8,123.0 L380.8,123.0 L381.8,123.0 L382.8,123.0 L383.8,123.0 L384.8,123.0 L385.8,123.0 L386.8,123.0 L387.8,123.0 L388.8,123.1 L389.8,123.1 L390.8,123.1 L391.8,123.1 L392.8,123.1 L393.8,123.1 L394.8,123.1 L395.8,123.1 L396.8,123.1 L397.8,123.1 L398.8,123.2 L399.8,123.2 L400.8,123.2 L401.8,123.2 L402.8,123.2 L403.8,123.3 L404.8,123.3 L405.8,123.3 L406.8,123.3 L407.8,123.3 L408.8,123.4 L409.8,123.4 L410.8,123.4 L411.8,123.4 L412.8,123.5 L413.8,123.5 L414.8,123.5 L415.8,123.5 L416.8,123.5 L417.8,123.5 L418.8,123.5 L419.8,123.6 L420.8,123.6 L421.8,123.6 L422.8,123.6 L423.8,123.6 L424.8,123.6 L425.8,123.6 L426.8,123.6 L427.8,123.6 L428.8,123.5 L429.8,123.5 L430.8,123.5 L431.8,123.5 L432.8,123.4 L433.8,123.4 L434.8,123.4 L435.8,123.3 L436.8,123.3 L437.8,123.2 L438.8,123.2 L439.8,123.1 L440.8,123.1 L441.8,123.0 L442.8,122.9 L443.8,122.8 L444.8,122.7 L445.8,122.6 L446.8,122.5 L447.8,122.4 L448.8,122.3 L449.8,122.2 L450.8,122.1 L451.8,121.9 L452.8,121.8 L453.8,121.6 L454.8,121.5 L455.8,121.3 L456.8,121.1 L457.8,121.0 L458.8,120.8 L459.8,120.6 L460.8,120.3 L461.8,120.1 L462.8,119.9 L463.8,119.6 L464.8,119.3 L465.8,119.0 L466.8,118.7 L467.8,118.3 L468.8,117.9 L469.8,117.5 L470.8,117.1 L471.8,116.6 L472.8,116.1 L473.8,115.6 L474.8,115.0 L475.8,114.4 L476.8,113.8 L477.8,113.1 L478.8,112.4 L479.8,111.6 L480.8,110.8 L481.8,110.0 L482.8,109.1 L483.8,108.1 L484.8,107.1 L485.8,106.1 L486.8,105.0 L487.8,103.9 L488.8,102.7 L489.8,101.5 L490.8,100.3 L491.8,99.0 L492.8,97.7 L493.8,96.4 L494.8,95.0 L495.8,93.6 L496.8,92.2 L497.8,90.8 L498.8,89.4 L499.8,87.9 L500.8,86.4 L501.8,84.9 L502.8,83.5 L503.8,82.0 L504.8,80.5 L505.8,78.9 L506.8,77.4 L507.8,75.9 L508.7,74.7" fill="none" stroke="#4a4a4a" stroke-width="0.65"/>
<path d="M289.8,124.3 L310,123.8 L330,123.3 L346,123.05" fill="none" stroke="#000" stroke-width="1.2"/>
<line x1="25.9" y1="181.3" x2="25.9" y2="292.9" stroke="#999" stroke-width="1" />
<line x1="25.4" y1="292.4" x2="246.7" y2="292.4" stroke="#999" stroke-width="1" />
<line x1="23.7" y1="292.4" x2="25.9" y2="292.4" stroke="#999" stroke-width="0.7" />
<text x="21.9" y="294.3" font-size="5.4" text-anchor="end" font-weight="normal" fill="#111"  stroke="#111" stroke-width="0.14">14</text>
<line x1="23.7" y1="281.3" x2="25.9" y2="281.3" stroke="#999" stroke-width="0.7" />
<text x="21.9" y="283.2" font-size="5.4" text-anchor="end" font-weight="normal" fill="#111"  stroke="#111" stroke-width="0.14">16</text>
<line x1="23.7" y1="270.2" x2="25.9" y2="270.2" stroke="#999" stroke-width="0.7" />
<text x="21.9" y="272.1" font-size="5.4" text-anchor="end" font-weight="normal" fill="#111"  stroke="#111" stroke-width="0.14">18</text>
<line x1="23.7" y1="259.2" x2="25.9" y2="259.2" stroke="#999" stroke-width="0.7" />
<text x="21.9" y="261.1" font-size="5.4" text-anchor="end" font-weight="normal" fill="#111"  stroke="#111" stroke-width="0.14">20</text>
<line x1="23.7" y1="248.1" x2="25.9" y2="248.1" stroke="#999" stroke-width="0.7" />
<text x="21.9" y="250.0" font-size="5.4" text-anchor="end" font-weight="normal" fill="#111"  stroke="#111" stroke-width="0.14">22</text>
<line x1="23.7" y1="237.0" x2="25.9" y2="237.0" stroke="#999" stroke-width="0.7" />
<text x="21.9" y="238.9" font-size="5.4" text-anchor="end" font-weight="normal" fill="#111"  stroke="#111" stroke-width="0.14">24</text>
<line x1="23.7" y1="225.9" x2="25.9" y2="225.9" stroke="#999" stroke-width="0.7" />
<text x="21.9" y="227.8" font-size="5.4" text-anchor="end" font-weight="normal" fill="#111"  stroke="#111" stroke-width="0.14">26</text>
<line x1="23.7" y1="214.8" x2="25.9" y2="214.8" stroke="#999" stroke-width="0.7" />
<text x="21.9" y="216.7" font-size="5.4" text-anchor="end" font-weight="normal" fill="#111"  stroke="#111" stroke-width="0.14">28</text>
<line x1="23.7" y1="203.8" x2="25.9" y2="203.8" stroke="#999" stroke-width="0.7" />
<text x="21.9" y="205.7" font-size="5.4" text-anchor="end" font-weight="normal" fill="#111"  stroke="#111" stroke-width="0.14">30</text>
<line x1="23.7" y1="192.7" x2="25.9" y2="192.7" stroke="#999" stroke-width="0.7" />
<text x="21.9" y="194.6" font-size="5.4" text-anchor="end" font-weight="normal" fill="#111"  stroke="#111" stroke-width="0.14">32</text>
<line x1="23.7" y1="181.6" x2="25.9" y2="181.6" stroke="#999" stroke-width="0.7" />
<text x="21.9" y="183.5" font-size="5.4" text-anchor="end" font-weight="normal" fill="#111"  stroke="#111" stroke-width="0.14">34</text>
<line x1="25.8" y1="292.4" x2="25.8" y2="294.6" stroke="#999" stroke-width="0.7" />
<text x="25.8" y="300.9" font-size="5.4" text-anchor="middle" font-weight="normal" fill="#111"  stroke="#111" stroke-width="0.14">-1.0</text>
<line x1="44.9" y1="292.4" x2="44.9" y2="294.6" stroke="#999" stroke-width="0.7" />
<text x="44.9" y="300.9" font-size="5.4" text-anchor="middle" font-weight="normal" fill="#111"  stroke="#111" stroke-width="0.14">-0.5</text>
<line x1="64.1" y1="292.4" x2="64.1" y2="294.6" stroke="#999" stroke-width="0.7" />
<text x="64.1" y="300.9" font-size="5.4" text-anchor="middle" font-weight="normal" fill="#111"  stroke="#111" stroke-width="0.14">0.0</text>
<line x1="83.2" y1="292.4" x2="83.2" y2="294.6" stroke="#999" stroke-width="0.7" />
<text x="83.2" y="300.9" font-size="5.4" text-anchor="middle" font-weight="normal" fill="#111"  stroke="#111" stroke-width="0.14">0.5</text>
<line x1="102.4" y1="292.4" x2="102.4" y2="294.6" stroke="#999" stroke-width="0.7" />
<text x="102.4" y="300.9" font-size="5.4" text-anchor="middle" font-weight="normal" fill="#111"  stroke="#111" stroke-width="0.14">1.0</text>
<line x1="121.5" y1="292.4" x2="121.5" y2="294.6" stroke="#999" stroke-width="0.7" />
<text x="121.5" y="300.9" font-size="5.4" text-anchor="middle" font-weight="normal" fill="#111"  stroke="#111" stroke-width="0.14">1.5</text>
<line x1="140.7" y1="292.4" x2="140.7" y2="294.6" stroke="#999" stroke-width="0.7" />
<text x="140.7" y="300.9" font-size="5.4" text-anchor="middle" font-weight="normal" fill="#111"  stroke="#111" stroke-width="0.14">2.0</text>
<line x1="159.8" y1="292.4" x2="159.8" y2="294.6" stroke="#999" stroke-width="0.7" />
<text x="159.8" y="300.9" font-size="5.4" text-anchor="middle" font-weight="normal" fill="#111"  stroke="#111" stroke-width="0.14">2.5</text>
<line x1="179.0" y1="292.4" x2="179.0" y2="294.6" stroke="#999" stroke-width="0.7" />
<text x="179.0" y="300.9" font-size="5.4" text-anchor="middle" font-weight="normal" fill="#111"  stroke="#111" stroke-width="0.14">3.0</text>
<line x1="198.1" y1="292.4" x2="198.1" y2="294.6" stroke="#999" stroke-width="0.7" />
<text x="198.1" y="300.9" font-size="5.4" text-anchor="middle" font-weight="normal" fill="#111"  stroke="#111" stroke-width="0.14">3.5</text>
<line x1="217.3" y1="292.4" x2="217.3" y2="294.6" stroke="#999" stroke-width="0.7" />
<text x="217.3" y="300.9" font-size="5.4" text-anchor="middle" font-weight="normal" fill="#111"  stroke="#111" stroke-width="0.14">4.0</text>
<line x1="236.4" y1="292.4" x2="236.4" y2="294.6" stroke="#999" stroke-width="0.7" />
<text x="236.4" y="300.9" font-size="5.4" text-anchor="middle" font-weight="normal" fill="#111"  stroke="#111" stroke-width="0.14">4.5</text>
<line x1="251.0" y1="292.4" x2="254.0" y2="292.4" stroke="#bbb" stroke-width="0.7" />
<text x="142.1" y="314.2" font-size="8.1" text-anchor="middle" font-weight="bold" fill="#000" >Log Concentration</text>
<text transform="translate(6.3,235.0) rotate(-90) scale(1.01,0.9)" font-size="8" text-anchor="middle" font-weight="bold" fill="#000">Cycle no.</text>
<text x="0.0" y="174.7" font-size="17.5" text-anchor="start" font-weight="bold" fill="#000" >C</text>
<line x1="48.8" y1="186.1" x2="240.3" y2="283.1" stroke="#444" stroke-width="0.6" />
<rect x="47.7" y="184.0" width="2.2" height="1.9" fill="#000"/>
<rect x="86.0" y="205.9" width="2.2" height="1.9" fill="#000"/>
<rect x="124.3" y="224.7" width="2.2" height="1.9" fill="#000"/>
<rect x="162.6" y="241.3" width="2.2" height="1.9" fill="#000"/>
<rect x="200.9" y="262.9" width="2.2" height="1.9" fill="#000"/>
<rect x="239.2" y="282.3" width="2.2" height="1.9" fill="#000"/>
<line x1="289.6" y1="184.3" x2="289.6" y2="292.9" stroke="#999" stroke-width="1" />
<line x1="289.1" y1="292.4" x2="512.5" y2="292.4" stroke="#999" stroke-width="1" />
<line x1="287.4" y1="292.4" x2="289.6" y2="292.4" stroke="#999" stroke-width="0.7" />
<text x="286.0" y="294.4" font-size="5.2" text-anchor="end" font-weight="normal" fill="#111"  stroke="#111" stroke-width="0.14">23</text>
<line x1="287.4" y1="283.4" x2="289.6" y2="283.4" stroke="#999" stroke-width="0.7" />
<text x="286.0" y="285.4" font-size="5.2" text-anchor="end" font-weight="normal" fill="#111"  stroke="#111" stroke-width="0.14">24</text>
<line x1="287.4" y1="274.5" x2="289.6" y2="274.5" stroke="#999" stroke-width="0.7" />
<text x="286.0" y="276.5" font-size="5.2" text-anchor="end" font-weight="normal" fill="#111"  stroke="#111" stroke-width="0.14">25</text>
<line x1="287.4" y1="265.5" x2="289.6" y2="265.5" stroke="#999" stroke-width="0.7" />
<text x="286.0" y="267.5" font-size="5.2" text-anchor="end" font-weight="normal" fill="#111"  stroke="#111" stroke-width="0.14">26</text>
<line x1="287.4" y1="256.5" x2="289.6" y2="256.5" stroke="#999" stroke-width="0.7" />
<text x="286.0" y="258.5" font-size="5.2" text-anchor="end" font-weight="normal" fill="#111"  stroke="#111" stroke-width="0.14">27</text>
<line x1="287.4" y1="247.5" x2="289.6" y2="247.5" stroke="#999" stroke-width="0.7" />
<text x="286.0" y="249.5" font-size="5.2" text-anchor="end" font-weight="normal" fill="#111"  stroke="#111" stroke-width="0.14">28</text>
<line x1="287.4" y1="238.6" x2="289.6" y2="238.6" stroke="#999" stroke-width="0.7" />
<text x="286.0" y="240.6" font-size="5.2" text-anchor="end" font-weight="normal" fill="#111"  stroke="#111" stroke-width="0.14">29</text>
<line x1="287.4" y1="229.6" x2="289.6" y2="229.6" stroke="#999" stroke-width="0.7" />
<text x="286.0" y="231.6" font-size="5.2" text-anchor="end" font-weight="normal" fill="#111"  stroke="#111" stroke-width="0.14">30</text>
<line x1="287.4" y1="220.6" x2="289.6" y2="220.6" stroke="#999" stroke-width="0.7" />
<text x="286.0" y="222.6" font-size="5.2" text-anchor="end" font-weight="normal" fill="#111"  stroke="#111" stroke-width="0.14">31</text>
<line x1="287.4" y1="211.7" x2="289.6" y2="211.7" stroke="#999" stroke-width="0.7" />
<text x="286.0" y="213.7" font-size="5.2" text-anchor="end" font-weight="normal" fill="#111"  stroke="#111" stroke-width="0.14">32</text>
<line x1="287.4" y1="202.7" x2="289.6" y2="202.7" stroke="#999" stroke-width="0.7" />
<text x="286.0" y="204.7" font-size="5.2" text-anchor="end" font-weight="normal" fill="#111"  stroke="#111" stroke-width="0.14">33</text>
<line x1="287.4" y1="193.7" x2="289.6" y2="193.7" stroke="#999" stroke-width="0.7" />
<text x="286.0" y="195.7" font-size="5.2" text-anchor="end" font-weight="normal" fill="#111"  stroke="#111" stroke-width="0.14">34</text>
<line x1="287.4" y1="184.8" x2="289.6" y2="184.8" stroke="#999" stroke-width="0.7" />
<text x="286.0" y="186.8" font-size="5.2" text-anchor="end" font-weight="normal" fill="#111"  stroke="#111" stroke-width="0.14">35</text>
<line x1="289.7" y1="292.4" x2="289.7" y2="294.6" stroke="#999" stroke-width="0.7" />
<text transform="translate(289.7,300.9) scale(0.93,1)" font-size="5.2" text-anchor="middle" font-weight="normal" fill="#111"  stroke="#111" stroke-width="0.14">-3.0</text>
<line x1="304.5" y1="292.4" x2="304.5" y2="294.6" stroke="#999" stroke-width="0.7" />
<text transform="translate(304.5,300.9) scale(0.93,1)" font-size="5.2" text-anchor="middle" font-weight="normal" fill="#111"  stroke="#111" stroke-width="0.14">-2.8</text>
<line x1="319.3" y1="292.4" x2="319.3" y2="294.6" stroke="#999" stroke-width="0.7" />
<text transform="translate(319.3,300.9) scale(0.93,1)" font-size="5.2" text-anchor="middle" font-weight="normal" fill="#111"  stroke="#111" stroke-width="0.14">-2.6</text>
<line x1="334.2" y1="292.4" x2="334.2" y2="294.6" stroke="#999" stroke-width="0.7" />
<text transform="translate(334.2,300.9) scale(0.93,1)" font-size="5.2" text-anchor="middle" font-weight="normal" fill="#111"  stroke="#111" stroke-width="0.14">-2.4</text>
<line x1="349.0" y1="292.4" x2="349.0" y2="294.6" stroke="#999" stroke-width="0.7" />
<text transform="translate(349.0,300.9) scale(0.93,1)" font-size="5.2" text-anchor="middle" font-weight="normal" fill="#111"  stroke="#111" stroke-width="0.14">-2.2</text>
<line x1="363.8" y1="292.4" x2="363.8" y2="294.6" stroke="#999" stroke-width="0.7" />
<text transform="translate(363.8,300.9) scale(0.93,1)" font-size="5.2" text-anchor="middle" font-weight="normal" fill="#111"  stroke="#111" stroke-width="0.14">-2.0</text>
<line x1="378.6" y1="292.4" x2="378.6" y2="294.6" stroke="#999" stroke-width="0.7" />
<text transform="translate(378.6,300.9) scale(0.93,1)" font-size="5.2" text-anchor="middle" font-weight="normal" fill="#111"  stroke="#111" stroke-width="0.14">-1.8</text>
<line x1="393.4" y1="292.4" x2="393.4" y2="294.6" stroke="#999" stroke-width="0.7" />
<text transform="translate(393.4,300.9) scale(0.93,1)" font-size="5.2" text-anchor="middle" font-weight="normal" fill="#111"  stroke="#111" stroke-width="0.14">-1.6</text>
<line x1="408.3" y1="292.4" x2="408.3" y2="294.6" stroke="#999" stroke-width="0.7" />
<text transform="translate(408.3,300.9) scale(0.93,1)" font-size="5.2" text-anchor="middle" font-weight="normal" fill="#111"  stroke="#111" stroke-width="0.14">-1.4</text>
<line x1="423.1" y1="292.4" x2="423.1" y2="294.6" stroke="#999" stroke-width="0.7" />
<text transform="translate(423.1,300.9) scale(0.93,1)" font-size="5.2" text-anchor="middle" font-weight="normal" fill="#111"  stroke="#111" stroke-width="0.14">-1.2</text>
<line x1="437.9" y1="292.4" x2="437.9" y2="294.6" stroke="#999" stroke-width="0.7" />
<text transform="translate(437.9,300.9) scale(0.93,1)" font-size="5.2" text-anchor="middle" font-weight="normal" fill="#111"  stroke="#111" stroke-width="0.14">-1.0</text>
<line x1="452.7" y1="292.4" x2="452.7" y2="294.6" stroke="#999" stroke-width="0.7" />
<text transform="translate(452.7,300.9) scale(0.93,1)" font-size="5.2" text-anchor="middle" font-weight="normal" fill="#111"  stroke="#111" stroke-width="0.14">-0.8</text>
<line x1="467.5" y1="292.4" x2="467.5" y2="294.6" stroke="#999" stroke-width="0.7" />
<text transform="translate(467.5,300.9) scale(0.93,1)" font-size="5.2" text-anchor="middle" font-weight="normal" fill="#111"  stroke="#111" stroke-width="0.14">-0.6</text>
<line x1="482.4" y1="292.4" x2="482.4" y2="294.6" stroke="#999" stroke-width="0.7" />
<text transform="translate(482.4,300.9) scale(0.93,1)" font-size="5.2" text-anchor="middle" font-weight="normal" fill="#111"  stroke="#111" stroke-width="0.14">-0.4</text>
<line x1="497.2" y1="292.4" x2="497.2" y2="294.6" stroke="#999" stroke-width="0.7" />
<text transform="translate(497.2,300.9) scale(0.93,1)" font-size="5.2" text-anchor="middle" font-weight="normal" fill="#111"  stroke="#111" stroke-width="0.14">-0.2</text>
<line x1="512.0" y1="292.4" x2="512.0" y2="294.6" stroke="#999" stroke-width="0.7" />
<text transform="translate(512.0,300.9) scale(0.93,1)" font-size="5.2" text-anchor="middle" font-weight="normal" fill="#111"  stroke="#111" stroke-width="0.14">0.0</text>
<text x="403.3" y="314.2" font-size="8.1" text-anchor="middle" font-weight="bold" fill="#000" >Log Concentration</text>
<text transform="translate(266.4,235.4) rotate(-90) scale(1.01,0.9)" font-size="8" text-anchor="middle" font-weight="bold" fill="#000">Cycle no.</text>
<text x="259.9" y="174.8" font-size="17.5" text-anchor="start" font-weight="bold" fill="#000" >D</text>
<line x1="289.7" y1="192.5" x2="512.0" y2="283.1" stroke="#606060" stroke-width="0.6" />
<rect x="288.9" y="192.1" width="1.6" height="1.5" fill="#222"/>
<rect x="363.0" y="222.6" width="1.6" height="1.5" fill="#222"/>
<rect x="437.1" y="250.8" width="1.6" height="1.5" fill="#222"/>
<rect x="511.2" y="282.7" width="1.6" height="1.5" fill="#222"/>
</svg>
</body></html>
